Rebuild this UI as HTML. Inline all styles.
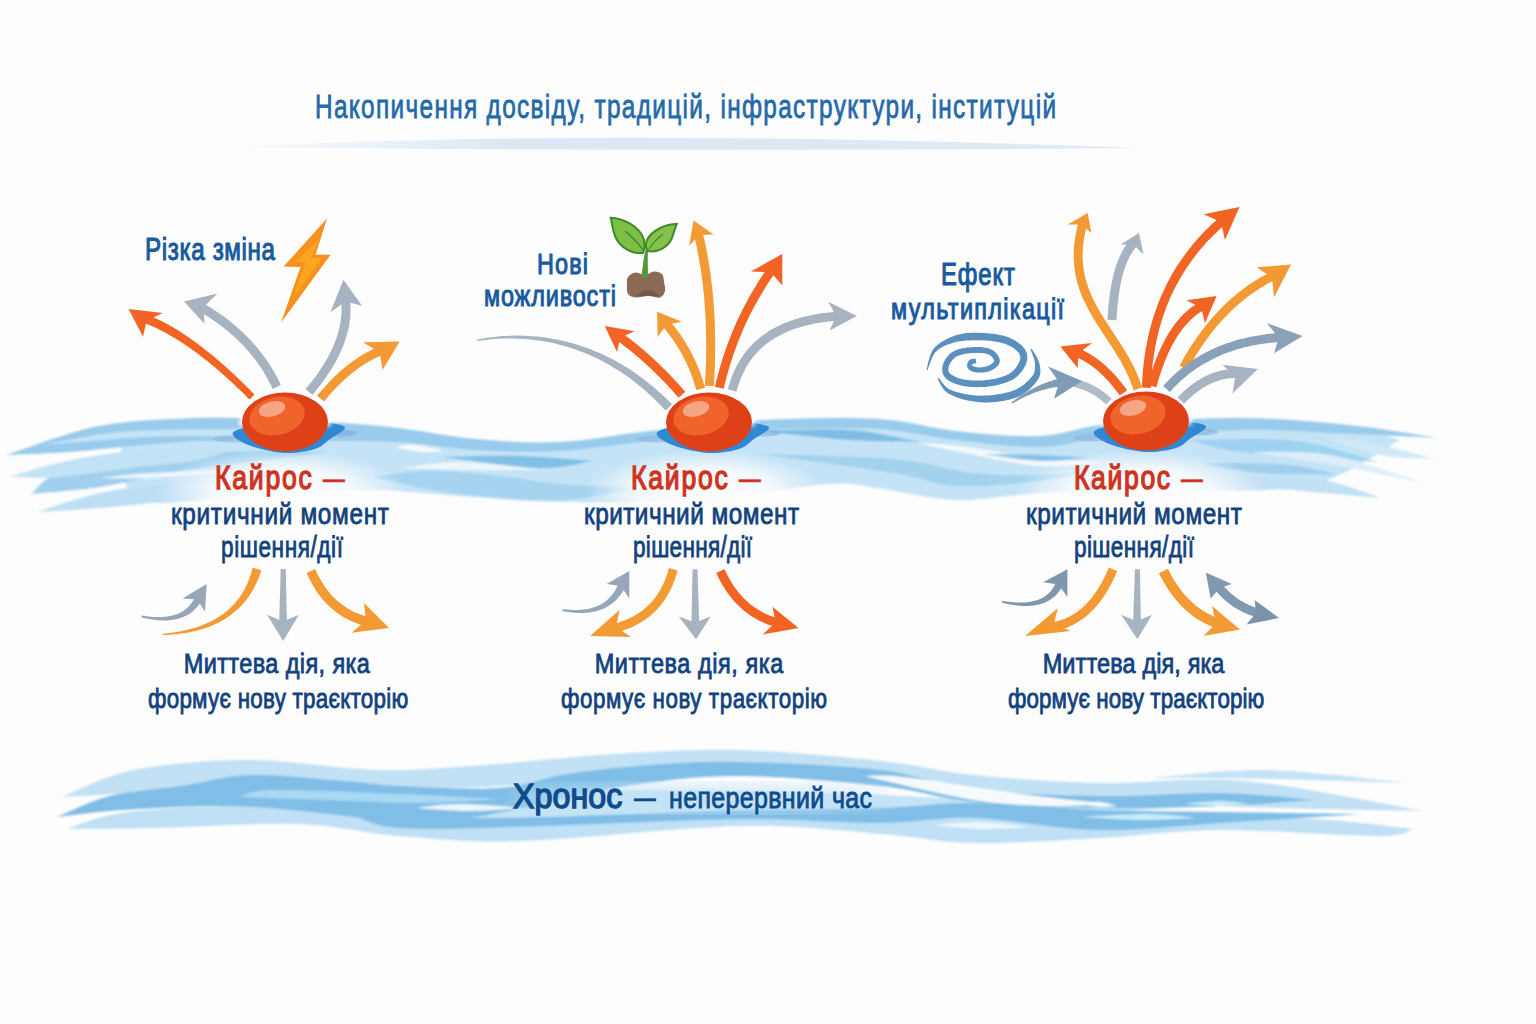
<!DOCTYPE html>
<html><head><meta charset="utf-8"><style>
html,body{margin:0;padding:0;background:#fdfdfd;width:1536px;height:1024px;overflow:hidden}
svg{display:block}
text{font-family:"Liberation Sans",sans-serif}
</style></head><body>
<svg width="1536" height="1024" viewBox="0 0 1536 1024">
<rect width="1536" height="1024" fill="#fdfdfd"/>
<defs>
<radialGradient id="orb" cx="0.42" cy="0.38" r="0.65">
 <stop offset="0" stop-color="#f46a2c"/><stop offset="0.6" stop-color="#ef5a22"/><stop offset="1" stop-color="#d63c12"/>
</radialGradient>
<radialGradient id="glow" cx="0.5" cy="0.5" r="0.5">
 <stop offset="0" stop-color="#fdfdfd" stop-opacity="1"/><stop offset="0.55" stop-color="#fdfdfd" stop-opacity="0.85"/><stop offset="1" stop-color="#fdfdfd" stop-opacity="0"/>
</radialGradient>
<linearGradient id="swoosh" x1="0" x2="1" y1="0" y2="0">
 <stop offset="0" stop-color="#e6eff8" stop-opacity="0.3"/><stop offset="0.3" stop-color="#dae8f5"/><stop offset="1" stop-color="#dfeaf6"/>
</linearGradient>
<filter id="blur1" x="-5%" y="-20%" width="110%" height="140%"><feGaussianBlur stdDeviation="0.9"/></filter>
<filter id="blur2"><feGaussianBlur stdDeviation="2"/></filter>
<filter id="blur4"><feGaussianBlur stdDeviation="4"/></filter>
<filter id="blur8"><feGaussianBlur stdDeviation="8"/></filter>
</defs>
<path d="M239,147 Q600,128 1139,148 Q700,152 239,147Z" fill="url(#swoosh)"/>
<g filter="url(#blur1)"><path d="M120.0,440.0 C128.7,437.5 152.0,428.3 172.0,425.0 C192.0,421.7 214.0,420.3 240.0,420.0 C266.0,419.7 301.7,421.3 328.0,423.0 C354.3,424.7 373.3,427.2 398.0,430.0 C422.7,432.8 449.0,437.7 476.0,440.0 C503.0,442.3 531.0,445.2 560.0,444.0 C589.0,442.8 616.2,436.7 650.0,433.0 C683.8,429.3 725.0,424.0 763.0,422.0 C801.0,420.0 845.8,419.2 878.0,421.0 C910.2,422.8 929.0,430.2 956.0,433.0 C983.0,435.8 1014.3,439.2 1040.0,438.0 C1065.7,436.8 1076.7,429.0 1110.0,426.0 C1143.3,423.0 1200.2,419.8 1240.0,420.0 C1279.8,420.2 1322.3,423.7 1349.0,427.0 C1375.7,430.3 1391.5,437.8 1400.0,440.0 C1384.3,447.7 1347.7,477.7 1306.0,486.0 C1264.3,494.3 1194.3,488.8 1150.0,490.0 C1105.7,491.2 1072.3,491.3 1040.0,493.0 C1007.7,494.7 983.0,500.8 956.0,500.0 C929.0,499.2 899.3,490.7 878.0,488.0 C856.7,485.3 857.7,482.0 828.0,484.0 C798.3,486.0 744.7,497.0 700.0,500.0 C655.3,503.0 600.0,502.7 560.0,502.0 C520.0,501.3 491.5,498.0 460.0,496.0 C428.5,494.0 404.3,490.3 371.0,490.0 C337.7,489.7 298.5,492.3 260.0,494.0 C221.5,495.7 163.3,509.0 140.0,500.0 C116.7,491.0 123.3,450.0 120.0,440.0Z" fill="#c4e3f6" opacity="1" /><path d="M6.0,455.0 C20.7,450.3 66.3,433.0 94.0,427.0 C121.7,421.0 147.7,420.5 172.0,419.0 C196.3,417.5 214.0,417.5 240.0,418.0 C266.0,418.5 301.7,420.3 328.0,422.0 C354.3,423.7 373.3,425.2 398.0,428.0 C422.7,430.8 449.0,436.7 476.0,439.0 C503.0,441.3 531.0,443.3 560.0,442.0 C589.0,440.7 616.2,434.7 650.0,431.0 C683.8,427.3 725.0,422.0 763.0,420.0 C801.0,418.0 845.8,417.2 878.0,419.0 C910.2,420.8 929.0,428.2 956.0,431.0 C983.0,433.8 1014.3,437.2 1040.0,436.0 C1065.7,434.8 1076.7,427.0 1110.0,424.0 C1143.3,421.0 1200.2,417.8 1240.0,418.0 C1279.8,418.2 1316.0,421.7 1349.0,425.0 C1382.0,428.3 1423.2,435.8 1438.0,438.0 C1420.7,437.2 1367.0,434.3 1334.0,433.0 C1301.0,431.7 1277.3,429.3 1240.0,430.0 C1202.7,430.7 1143.3,434.2 1110.0,437.0 C1076.7,439.8 1065.7,446.5 1040.0,447.0 C1014.3,447.5 983.0,443.0 956.0,440.0 C929.0,437.0 910.2,430.7 878.0,429.0 C845.8,427.3 801.0,428.0 763.0,430.0 C725.0,432.0 683.8,437.5 650.0,441.0 C616.2,444.5 589.0,449.5 560.0,451.0 C531.0,452.5 503.8,451.5 476.0,450.0 C448.2,448.5 429.0,443.7 393.0,442.0 C357.0,440.3 293.0,440.2 260.0,440.0 C227.0,439.8 216.2,440.0 195.0,441.0 C173.8,442.0 153.8,444.2 133.0,446.0 C112.2,447.8 91.2,450.5 70.0,452.0 C48.8,453.5 16.7,454.5 6.0,455.0Z" fill="#98cbec" opacity="1" /><path d="M40.0,445.0 C53.3,442.8 90.0,434.7 120.0,432.0 C150.0,429.3 190.0,429.3 220.0,429.0 C250.0,428.7 286.7,429.8 300.0,430.0 C290.0,431.0 265.0,434.8 240.0,436.0 C215.0,437.2 183.3,435.5 150.0,437.0 C116.7,438.5 58.3,443.7 40.0,445.0Z" fill="#c4e3f6" opacity="1" /><path d="M31.0,494.0 C35.8,490.3 43.5,477.8 60.0,472.0 C76.5,466.2 101.7,462.3 130.0,459.0 C158.3,455.7 196.7,453.2 230.0,452.0 C263.3,450.8 313.3,452.0 330.0,452.0 C318.3,453.5 285.0,457.8 260.0,461.0 C235.0,464.2 206.7,466.7 180.0,471.0 C153.3,475.3 124.8,483.2 100.0,487.0 C75.2,490.8 42.5,492.8 31.0,494.0Z" fill="#a1d0ef" opacity="1" /><path d="M9.0,477.0 C15.8,475.0 34.8,468.7 50.0,465.0 C65.2,461.3 81.7,457.7 100.0,455.0 C118.3,452.3 136.7,450.5 160.0,449.0 C183.3,447.5 226.7,446.5 240.0,446.0 C233.3,448.3 218.3,456.3 200.0,460.0 C181.7,463.7 153.3,465.2 130.0,468.0 C106.7,470.8 80.2,475.5 60.0,477.0 C39.8,478.5 17.5,477.0 9.0,477.0Z" fill="#c2e2f6" opacity="1" /><path d="M37.0,512.0 C47.5,508.8 77.8,497.8 100.0,493.0 C122.2,488.2 143.3,486.2 170.0,483.0 C196.7,479.8 233.3,475.8 260.0,474.0 C286.7,472.2 318.3,472.3 330.0,472.0 C320.0,475.0 295.0,485.3 270.0,490.0 C245.0,494.7 208.3,497.0 180.0,500.0 C151.7,503.0 123.8,506.0 100.0,508.0 C76.2,510.0 47.5,511.3 37.0,512.0Z" fill="#bddff5" opacity="1" /><path d="M100.0,478.0 C108.3,477.2 125.0,474.3 150.0,473.0 C175.0,471.7 233.3,470.5 250.0,470.0 C233.3,471.3 175.0,476.7 150.0,478.0 C125.0,479.3 108.3,478.0 100.0,478.0Z" fill="#fdfdfd" opacity="0.8" /><path d="M371.0,477.0 C380.8,476.0 408.5,471.2 430.0,471.0 C451.5,470.8 478.3,473.8 500.0,476.0 C521.7,478.2 536.7,482.0 560.0,484.0 C583.3,486.0 626.7,487.3 640.0,488.0 C626.7,490.0 590.0,499.0 560.0,500.0 C530.0,501.0 491.5,497.8 460.0,494.0 C428.5,490.2 385.8,479.8 371.0,477.0Z" fill="#a6d3f0" opacity="1" /><path d="M442.0,457.0 C455.0,456.8 495.0,455.3 520.0,456.0 C545.0,456.7 580.0,460.2 592.0,461.0 C583.3,462.2 565.0,468.7 540.0,468.0 C515.0,467.3 458.3,458.8 442.0,457.0Z" fill="#80bfe6" opacity="1" /><path d="M395.0,447.0 C398.3,446.7 406.7,444.3 415.0,445.0 C423.3,445.7 440.0,450.0 445.0,451.0 C440.8,451.2 428.3,452.7 420.0,452.0 C411.7,451.3 399.2,447.8 395.0,447.0Z" fill="#fdfdfd" opacity="0.9" /><path d="M400.0,468.0 C410.0,467.0 436.7,461.7 460.0,462.0 C483.3,462.3 526.7,468.7 540.0,470.0 C528.3,470.0 493.3,470.3 470.0,470.0 C446.7,469.7 411.7,468.3 400.0,468.0Z" fill="#fdfdfd" opacity="0.7" /><path d="M760.0,431.0 C775.0,430.8 823.3,428.2 850.0,430.0 C876.7,431.8 908.3,440.0 920.0,442.0 C908.3,441.7 876.7,441.8 850.0,440.0 C823.3,438.2 775.0,432.5 760.0,431.0Z" fill="#7fbde6" opacity="1" /><path d="M760.0,454.0 C782.3,454.8 858.7,455.8 894.0,459.0 C929.3,462.2 947.7,470.3 972.0,473.0 C996.3,475.7 1018.7,475.5 1040.0,475.0 C1061.3,474.5 1090.0,470.8 1100.0,470.0 C1090.0,471.8 1064.0,478.3 1040.0,481.0 C1016.0,483.7 980.3,487.3 956.0,486.0 C931.7,484.7 926.7,478.3 894.0,473.0 C861.3,467.7 782.3,457.2 760.0,454.0Z" fill="#a3d2ef" opacity="1" /><path d="M917.0,443.0 C924.2,443.5 939.5,443.5 960.0,446.0 C980.5,448.5 1015.0,455.3 1040.0,458.0 C1065.0,460.7 1098.3,461.3 1110.0,462.0 C1098.3,462.7 1065.0,467.7 1040.0,466.0 C1015.0,464.3 980.5,455.8 960.0,452.0 C939.5,448.2 924.2,444.5 917.0,443.0Z" fill="#fdfdfd" opacity="0.85" /><path d="M983.0,454.0 C992.5,454.2 1022.2,454.3 1040.0,455.0 C1057.8,455.7 1081.7,457.5 1090.0,458.0 C1081.7,458.5 1057.8,461.7 1040.0,461.0 C1022.2,460.3 992.5,455.2 983.0,454.0Z" fill="#86c2e8" opacity="1" /><path d="M1190.0,440.0 C1207.7,440.2 1264.7,437.3 1296.0,441.0 C1327.3,444.7 1364.3,458.5 1378.0,462.0 C1370.0,461.3 1353.0,459.7 1330.0,458.0 C1307.0,456.3 1263.3,455.0 1240.0,452.0 C1216.7,449.0 1198.3,442.0 1190.0,440.0Z" fill="#9dd3f0" opacity="1" /><path d="M1200.0,463.0 C1215.0,463.3 1267.0,463.0 1290.0,465.0 C1313.0,467.0 1330.0,473.3 1338.0,475.0 C1325.0,474.7 1283.0,475.0 1260.0,473.0 C1237.0,471.0 1210.0,464.7 1200.0,463.0Z" fill="#a0cfee" opacity="1" /><path d="M1180.0,478.0 C1201.0,477.8 1272.5,473.7 1306.0,477.0 C1339.5,480.3 1368.5,494.5 1381.0,498.0 C1359.2,496.0 1283.5,489.3 1250.0,486.0 C1216.5,482.7 1191.7,479.3 1180.0,478.0Z" fill="#c2e1f5" opacity="1" /><path d="M1320.0,436.0 C1330.0,437.5 1360.8,441.2 1380.0,445.0 C1399.2,448.8 1425.8,456.7 1435.0,459.0 C1425.8,458.3 1399.2,458.8 1380.0,455.0 C1360.8,451.2 1330.0,439.2 1320.0,436.0Z" fill="#d0e9f8" opacity="1" /><path d="M1250.0,452.0 C1263.3,452.5 1301.0,449.8 1330.0,455.0 C1359.0,460.2 1408.3,478.3 1424.0,483.0 C1410.0,480.2 1369.0,471.2 1340.0,466.0 C1311.0,460.8 1265.0,454.3 1250.0,452.0Z" fill="#dceefa" opacity="1" /></g>
<ellipse cx="282" cy="492" rx="125" ry="42" fill="url(#glow)"/>
<ellipse cx="705" cy="492" rx="120" ry="42" fill="url(#glow)"/>
<ellipse cx="1140" cy="492" rx="125" ry="42" fill="url(#glow)"/>
<g filter="url(#blur1)"><path d="M62.0,797.0 C74.0,792.5 102.5,776.2 134.0,770.0 C165.5,763.8 210.0,760.0 251.0,760.0 C292.0,760.0 339.0,769.3 380.0,770.0 C421.0,770.7 458.0,766.7 497.0,764.0 C536.0,761.3 573.5,756.3 614.0,754.0 C654.5,751.7 695.5,748.8 740.0,750.0 C784.5,751.2 842.0,756.8 881.0,761.0 C920.0,765.2 937.5,771.3 974.0,775.0 C1010.5,778.7 1055.0,782.0 1100.0,783.0 C1145.0,784.0 1190.2,776.3 1244.0,781.0 C1297.8,785.7 1393.2,806.0 1423.0,811.0 C1404.8,810.7 1347.7,809.8 1314.0,809.0 C1280.3,808.2 1256.7,807.2 1221.0,806.0 C1185.3,804.8 1141.2,803.8 1100.0,802.0 C1058.8,800.2 1010.5,798.7 974.0,795.0 C937.5,791.3 920.0,784.2 881.0,780.0 C842.0,775.8 792.3,769.7 740.0,770.0 C687.7,770.3 623.7,778.7 567.0,782.0 C510.3,785.3 464.5,788.3 400.0,790.0 C335.5,791.7 236.3,790.8 180.0,792.0 C123.7,793.2 81.7,796.2 62.0,797.0Z" fill="#c2e1f5" opacity="1" /><path d="M67.0,829.0 C76.2,826.3 95.2,816.8 122.0,813.0 C148.8,809.2 194.8,806.3 228.0,806.0 C261.2,805.7 292.3,809.3 321.0,811.0 C349.7,812.7 330.2,815.8 400.0,816.0 C469.8,816.2 623.3,812.7 740.0,812.0 C856.7,811.3 1006.7,811.0 1100.0,812.0 C1193.3,813.0 1247.8,815.2 1300.0,818.0 C1352.2,820.8 1394.2,827.2 1413.0,829.0 C1407.0,830.2 1409.0,835.8 1377.0,836.0 C1345.0,836.2 1267.2,829.7 1221.0,830.0 C1174.8,830.3 1141.2,835.8 1100.0,838.0 C1058.8,840.2 1010.5,843.7 974.0,843.0 C937.5,842.3 920.0,836.8 881.0,834.0 C842.0,831.2 800.0,824.8 740.0,826.0 C680.0,827.2 577.7,839.3 521.0,841.0 C464.3,842.7 437.2,838.8 400.0,836.0 C362.8,833.2 338.5,825.3 298.0,824.0 C257.5,822.7 195.5,827.2 157.0,828.0 C118.5,828.8 82.0,828.8 67.0,829.0Z" fill="#bfe0f5" opacity="1" /><path d="M240.0,800.0 C266.7,799.0 340.0,795.7 400.0,794.0 C460.0,792.3 533.3,790.3 600.0,790.0 C666.7,789.7 733.3,790.3 800.0,792.0 C866.7,793.7 933.3,797.7 1000.0,800.0 C1066.7,802.3 1166.7,805.0 1200.0,806.0 C1166.7,808.0 1066.7,816.0 1000.0,818.0 C933.3,820.0 866.7,818.0 800.0,818.0 C733.3,818.0 666.7,818.0 600.0,818.0 C533.3,818.0 460.0,821.0 400.0,818.0 C340.0,815.0 266.7,803.0 240.0,800.0Z" fill="#c4e3f6" opacity="1" /><path d="M57.0,817.0 C65.8,813.5 89.3,801.2 110.0,796.0 C130.7,790.8 157.5,789.5 181.0,786.0 C204.5,782.5 223.7,775.8 251.0,775.0 C278.3,774.2 320.2,779.2 345.0,781.0 C369.8,782.8 374.2,784.8 400.0,786.0 C425.8,787.2 472.2,790.0 500.0,788.0 C527.8,786.0 542.0,777.8 567.0,774.0 C592.0,770.2 621.2,767.0 650.0,765.0 C678.8,763.0 701.5,761.2 740.0,762.0 C778.5,762.8 842.0,765.3 881.0,770.0 C920.0,774.7 937.5,785.7 974.0,790.0 C1010.5,794.3 1058.8,795.5 1100.0,796.0 C1141.2,796.5 1185.3,792.3 1221.0,793.0 C1256.7,793.7 1298.5,798.8 1314.0,800.0 C1298.5,801.0 1256.7,804.7 1221.0,806.0 C1185.3,807.3 1141.2,808.7 1100.0,808.0 C1058.8,807.3 1010.5,805.7 974.0,802.0 C937.5,798.3 920.0,790.3 881.0,786.0 C842.0,781.7 780.2,776.3 740.0,776.0 C699.8,775.7 670.0,780.0 640.0,784.0 C610.0,788.0 588.3,794.3 560.0,800.0 C531.7,805.7 496.7,814.3 470.0,818.0 C443.3,821.7 424.8,822.8 400.0,822.0 C375.2,821.2 349.7,815.7 321.0,813.0 C292.3,810.3 261.2,806.5 228.0,806.0 C194.8,805.5 150.5,808.2 122.0,810.0 C93.5,811.8 67.8,815.8 57.0,817.0Z" fill="#80bee7" opacity="1" /><path d="M352.0,814.0 C360.0,814.7 368.0,817.5 400.0,818.0 C432.0,818.5 487.3,818.3 544.0,817.0 C600.7,815.7 683.8,811.5 740.0,810.0 C796.2,808.5 842.0,809.2 881.0,808.0 C920.0,806.8 937.5,802.7 974.0,803.0 C1010.5,803.3 1058.8,808.5 1100.0,810.0 C1141.2,811.5 1177.5,811.3 1221.0,812.0 C1264.5,812.7 1337.7,813.7 1361.0,814.0 C1337.7,815.5 1264.5,820.3 1221.0,823.0 C1177.5,825.7 1141.2,830.8 1100.0,830.0 C1058.8,829.2 1010.5,819.2 974.0,818.0 C937.5,816.8 920.0,822.8 881.0,823.0 C842.0,823.2 796.2,818.5 740.0,819.0 C683.8,819.5 600.7,824.5 544.0,826.0 C487.3,827.5 432.0,830.0 400.0,828.0 C368.0,826.0 360.0,816.3 352.0,814.0Z" fill="#80bee7" opacity="1" /><path d="M239.0,797.0 C244.8,795.8 247.2,790.5 274.0,790.0 C300.8,789.5 362.3,792.5 400.0,794.0 C437.7,795.5 483.3,798.2 500.0,799.0 C486.7,799.7 448.3,802.8 420.0,803.0 C391.7,803.2 360.2,801.0 330.0,800.0 C299.8,799.0 254.2,797.5 239.0,797.0Z" fill="#a9d9f3" opacity="1" /><path d="M415.0,808.0 C422.5,807.3 441.7,804.0 460.0,804.0 C478.3,804.0 514.2,807.3 525.0,808.0 C515.8,808.5 488.3,811.0 470.0,811.0 C451.7,811.0 424.2,808.5 415.0,808.0Z" fill="#f2f9fd" opacity="0.95" /><path d="M864.0,776.0 C870.7,776.2 877.8,774.0 904.0,777.0 C930.2,780.0 986.7,789.5 1021.0,794.0 C1055.3,798.5 1095.2,802.3 1110.0,804.0 C1100.0,804.3 1072.7,806.7 1050.0,806.0 C1027.3,805.3 1005.0,805.0 974.0,800.0 C943.0,795.0 882.3,780.0 864.0,776.0Z" fill="#fdfdfd" opacity="0.95" /><path d="M932.0,825.0 C940.0,824.5 963.2,821.7 980.0,822.0 C996.8,822.3 1024.2,826.2 1033.0,827.0 C1024.2,827.3 996.8,829.3 980.0,829.0 C963.2,828.7 940.0,825.7 932.0,825.0Z" fill="#eef7fd" opacity="0.95" /><path d="M1183.0,804.0 C1189.2,803.5 1209.0,801.0 1220.0,801.0 C1231.0,801.0 1244.2,803.5 1249.0,804.0 C1244.2,804.3 1231.0,806.0 1220.0,806.0 C1209.0,806.0 1189.2,804.3 1183.0,804.0Z" fill="#c8ecf9" opacity="1" /><path d="M1080.0,817.0 C1091.7,816.5 1130.5,813.8 1150.0,814.0 C1169.5,814.2 1189.2,817.3 1197.0,818.0 C1187.5,818.3 1159.5,820.2 1140.0,820.0 C1120.5,819.8 1090.0,817.5 1080.0,817.0Z" fill="#c8ecf9" opacity="1" /><path d="M1150.0,778.0 C1169.5,776.7 1224.0,769.2 1267.0,770.0 C1310.0,770.8 1384.5,780.8 1408.0,783.0 C1384.5,782.3 1310.0,779.8 1267.0,779.0 C1224.0,778.2 1169.5,778.2 1150.0,778.0Z" fill="#c5e3f6" opacity="1" /><path d="M1080.0,804.0 C1083.3,803.7 1093.8,801.7 1100.0,802.0 C1106.2,802.3 1114.2,805.3 1117.0,806.0 C1114.2,806.2 1106.2,807.3 1100.0,807.0 C1093.8,806.7 1083.3,804.5 1080.0,804.0Z" fill="#fdfdfd" opacity="0.9" /></g>
<ellipse cx="700" cy="798" rx="190" ry="14" fill="#c4e3f7" opacity="0.7" filter="url(#blur8)"/>
<path d="M254.5,394.5 L251.9,391.9 L249.4,389.3 L246.8,386.8 L244.3,384.2 L241.7,381.8 L239.2,379.3 L236.7,376.9 L234.2,374.6 L231.7,372.3 L229.2,370.0 L226.7,367.7 L224.3,365.5 L221.8,363.4 L219.4,361.3 L216.9,359.2 L214.5,357.1 L212.1,355.1 L209.7,353.2 L207.3,351.3 L204.9,349.4 L202.6,347.5 L200.2,345.7 L197.9,344.0 L195.5,342.2 L193.2,340.5 L190.9,338.9 L188.6,337.3 L186.3,335.7 L184.0,334.2 L181.7,332.7 L179.4,331.3 L177.2,329.8 L174.9,328.5 L172.7,327.1 L170.4,325.9 L168.2,324.6 L166.0,323.4 L163.8,322.2 L161.6,321.1 L159.4,320.0 L157.2,318.9 L155.1,317.9 L152.9,316.9 L150.7,316.0 L148.6,315.1 L146.5,314.3 L144.3,313.4 L142.3,312.7 L139.2,321.2 L141.3,321.9 L143.3,322.6 L145.3,323.4 L147.4,324.2 L149.4,325.0 L151.5,325.9 L153.5,326.8 L155.6,327.8 L157.7,328.8 L159.9,329.9 L162.0,330.9 L164.1,332.1 L166.3,333.2 L168.5,334.4 L170.6,335.7 L172.8,337.0 L175.0,338.3 L177.3,339.7 L179.5,341.1 L181.7,342.5 L184.0,344.0 L186.3,345.5 L188.6,347.1 L190.9,348.7 L193.2,350.4 L195.5,352.1 L197.8,353.8 L200.1,355.6 L202.5,357.4 L204.9,359.2 L207.3,361.1 L209.6,363.1 L212.0,365.0 L214.5,367.0 L216.9,369.1 L219.3,371.2 L221.8,373.3 L224.2,375.5 L226.7,377.7 L229.2,380.0 L231.7,382.3 L234.2,384.6 L236.7,387.0 L239.3,389.4 L241.8,391.8 L244.4,394.3 L246.9,396.9 L249.5,399.5Z" fill="#f26424" /><polygon points="128.6,309.0 162.8,313.0 146.6,320.7 143.0,336.7" fill="#f26424" />
<path d="M280.8,385.1 L279.8,383.0 L278.8,380.9 L277.7,378.8 L276.7,376.7 L275.6,374.6 L274.4,372.6 L273.2,370.5 L272.0,368.5 L270.8,366.5 L269.6,364.5 L268.3,362.5 L266.9,360.6 L265.6,358.6 L264.2,356.7 L262.8,354.8 L261.4,352.9 L259.9,351.0 L258.4,349.2 L256.9,347.3 L255.3,345.5 L253.7,343.7 L252.1,341.9 L250.5,340.1 L248.8,338.4 L247.1,336.6 L245.3,334.9 L243.6,333.2 L241.8,331.5 L239.9,329.8 L238.1,328.2 L236.2,326.5 L234.3,324.9 L232.3,323.3 L230.4,321.7 L228.4,320.1 L226.3,318.6 L224.3,317.0 L222.2,315.5 L220.1,314.0 L217.9,312.5 L215.7,311.0 L213.5,309.6 L211.3,308.1 L209.0,306.7 L206.7,305.3 L204.4,303.9 L202.0,302.5 L199.7,301.2 L195.2,309.0 L197.5,310.3 L199.8,311.6 L202.1,313.0 L204.3,314.3 L206.4,315.7 L208.6,317.1 L210.7,318.5 L212.8,319.9 L214.9,321.4 L216.9,322.8 L218.9,324.3 L220.9,325.8 L222.8,327.2 L224.8,328.8 L226.6,330.3 L228.5,331.8 L230.3,333.4 L232.1,334.9 L233.9,336.5 L235.6,338.1 L237.3,339.7 L239.0,341.4 L240.7,343.0 L242.3,344.6 L243.9,346.3 L245.5,348.0 L247.0,349.7 L248.5,351.4 L250.0,353.1 L251.4,354.9 L252.9,356.7 L254.2,358.4 L255.6,360.2 L256.9,362.0 L258.2,363.8 L259.5,365.7 L260.8,367.5 L262.0,369.4 L263.2,371.3 L264.3,373.2 L265.5,375.1 L266.6,377.0 L267.7,378.9 L268.7,380.9 L269.7,382.9 L270.7,384.8 L271.7,386.8 L272.6,388.9Z" fill="#a7b3c1" /><polygon points="184.0,301.6 217.4,293.4 203.9,306.7 204.4,323.7" fill="#a7b3c1" />
<path d="M312.5,394.9 L314.3,392.7 L316.1,390.5 L317.8,388.3 L319.5,386.1 L321.2,383.9 L322.8,381.8 L324.4,379.6 L325.9,377.4 L327.4,375.2 L328.8,373.1 L330.2,370.9 L331.6,368.8 L332.9,366.6 L334.1,364.5 L335.3,362.3 L336.5,360.2 L337.6,358.0 L338.7,355.9 L339.7,353.8 L340.7,351.6 L341.6,349.5 L342.5,347.4 L343.4,345.3 L344.2,343.2 L344.9,341.0 L345.6,338.9 L346.3,336.8 L346.9,334.7 L347.5,332.6 L348.0,330.5 L348.5,328.5 L348.9,326.4 L349.3,324.3 L349.6,322.2 L349.9,320.1 L350.1,318.1 L350.3,316.0 L350.4,313.9 L350.5,311.9 L350.6,309.8 L350.6,307.8 L350.5,305.8 L350.4,303.7 L350.3,301.7 L350.1,299.7 L349.9,297.6 L349.6,295.6 L349.2,293.7 L340.4,295.2 L340.7,297.0 L340.9,298.8 L341.1,300.6 L341.3,302.4 L341.4,304.3 L341.5,306.1 L341.6,307.9 L341.6,309.7 L341.5,311.6 L341.5,313.4 L341.3,315.3 L341.2,317.2 L340.9,319.0 L340.7,320.9 L340.4,322.8 L340.0,324.7 L339.7,326.6 L339.2,328.5 L338.8,330.4 L338.2,332.3 L337.7,334.2 L337.1,336.2 L336.4,338.1 L335.7,340.1 L335.0,342.0 L334.2,344.0 L333.4,346.0 L332.5,347.9 L331.6,349.9 L330.6,351.9 L329.6,353.9 L328.6,355.9 L327.5,357.9 L326.3,360.0 L325.1,362.0 L323.9,364.0 L322.6,366.1 L321.3,368.1 L319.9,370.2 L318.5,372.3 L317.1,374.4 L315.6,376.4 L314.0,378.5 L312.4,380.6 L310.8,382.7 L309.1,384.8 L307.3,387.0 L305.5,389.1Z" fill="#a7b3c1" /><polygon points="343.4,279.8 330.4,312.3 345.5,301.4 362.0,305.8" fill="#a7b3c1" />
<path d="M324.1,401.5 L325.4,399.9 L326.7,398.3 L328.0,396.8 L329.2,395.3 L330.5,393.8 L331.8,392.4 L333.1,391.0 L334.4,389.6 L335.7,388.2 L337.0,386.8 L338.3,385.5 L339.6,384.2 L340.9,382.9 L342.3,381.7 L343.6,380.5 L344.9,379.2 L346.2,378.1 L347.5,376.9 L348.8,375.8 L350.1,374.7 L351.5,373.6 L352.8,372.5 L354.1,371.5 L355.4,370.5 L356.7,369.5 L358.1,368.5 L359.4,367.6 L360.7,366.6 L362.1,365.7 L363.4,364.9 L364.7,364.0 L366.1,363.2 L367.4,362.4 L368.7,361.6 L370.1,360.9 L371.4,360.1 L372.8,359.4 L374.1,358.7 L375.4,358.1 L376.8,357.4 L378.1,356.8 L379.5,356.2 L380.8,355.7 L382.2,355.1 L383.5,354.6 L384.9,354.1 L386.3,353.6 L387.6,353.1 L384.8,344.6 L383.3,345.1 L381.9,345.6 L380.4,346.2 L378.9,346.7 L377.4,347.3 L375.9,348.0 L374.5,348.6 L373.0,349.3 L371.5,350.0 L370.1,350.7 L368.6,351.4 L367.2,352.2 L365.7,353.0 L364.3,353.8 L362.8,354.6 L361.4,355.5 L359.9,356.4 L358.5,357.3 L357.1,358.2 L355.7,359.2 L354.2,360.2 L352.8,361.2 L351.4,362.2 L350.0,363.3 L348.6,364.4 L347.2,365.5 L345.8,366.6 L344.4,367.7 L343.0,368.9 L341.6,370.1 L340.2,371.3 L338.8,372.6 L337.4,373.9 L336.1,375.2 L334.7,376.5 L333.3,377.8 L331.9,379.2 L330.6,380.6 L329.2,382.0 L327.9,383.4 L326.5,384.9 L325.2,386.4 L323.8,387.9 L322.5,389.4 L321.1,391.0 L319.8,392.5 L318.4,394.1 L317.1,395.7Z" fill="#f39a35" /><polygon points="399.7,341.6 363.0,342.3 379.8,352.4 382.5,370.0" fill="#f39a35" />
<polygon points="327,218.6 283.6,266.6 300.5,267 281.1,322.5 330.6,254.7 315.5,254.7" fill="#f7901e"/>
<polygon points="320,238 295,262 306,262 292,300 322,258 311,258" fill="#fba61c"/>
<path d="M477.1,341.1 L481.4,340.5 L485.6,339.9 L489.9,339.5 L494.1,339.1 L498.4,338.8 L502.6,338.6 L506.9,338.5 L511.1,338.4 L515.3,338.5 L519.6,338.7 L523.8,338.9 L528.0,339.3 L532.2,339.7 L536.4,340.2 L540.5,340.8 L544.7,341.5 L548.8,342.3 L553.0,343.1 L557.1,344.1 L561.2,345.2 L565.3,346.3 L569.3,347.5 L573.4,348.8 L577.4,350.2 L581.4,351.7 L585.4,353.3 L589.4,355.0 L593.3,356.8 L597.2,358.6 L601.1,360.6 L604.9,362.6 L608.8,364.7 L612.6,366.9 L616.4,369.2 L620.1,371.6 L623.8,374.1 L627.5,376.6 L631.2,379.3 L634.8,382.0 L638.4,384.9 L641.9,387.8 L645.4,390.8 L648.9,393.9 L652.3,397.1 L655.8,400.4 L659.1,403.8 L662.4,407.2 L665.7,410.8 L672.3,404.6 L668.8,401.1 L665.2,397.6 L661.6,394.2 L658.0,390.9 L654.3,387.7 L650.6,384.7 L646.9,381.7 L643.1,378.8 L639.3,376.0 L635.5,373.3 L631.6,370.6 L627.7,368.1 L623.8,365.7 L619.9,363.4 L615.9,361.1 L611.9,359.0 L607.9,357.0 L603.8,355.0 L599.7,353.1 L595.6,351.4 L591.5,349.7 L587.4,348.1 L583.3,346.7 L579.1,345.3 L574.9,344.0 L570.7,342.8 L566.5,341.7 L562.3,340.7 L558.1,339.7 L553.8,338.9 L549.6,338.2 L545.3,337.5 L541.0,337.0 L536.8,336.5 L532.5,336.2 L528.2,335.9 L523.9,335.7 L519.6,335.6 L515.4,335.6 L511.1,335.7 L506.8,335.9 L502.5,336.1 L498.2,336.5 L493.9,337.0 L489.7,337.5 L485.4,338.1 L481.1,338.9 L476.9,339.7Z" fill="#a7b3c1" />
<path d="M685.4,391.8 L684.0,390.3 L682.7,388.8 L681.3,387.3 L680.0,385.7 L678.6,384.2 L677.3,382.8 L675.9,381.3 L674.5,379.8 L673.2,378.4 L671.8,376.9 L670.4,375.5 L669.1,374.1 L667.7,372.6 L666.3,371.2 L664.9,369.8 L663.5,368.5 L662.1,367.1 L660.8,365.7 L659.4,364.4 L658.0,363.1 L656.6,361.7 L655.2,360.4 L653.8,359.1 L652.4,357.8 L651.0,356.5 L649.5,355.3 L648.1,354.0 L646.7,352.8 L645.3,351.5 L643.9,350.3 L642.5,349.1 L641.0,347.9 L639.6,346.7 L638.2,345.5 L636.7,344.3 L635.3,343.2 L633.9,342.0 L632.4,340.9 L631.0,339.7 L629.5,338.6 L628.1,337.5 L626.6,336.4 L625.2,335.3 L623.7,334.3 L622.3,333.2 L620.8,332.2 L619.3,331.1 L617.9,330.1 L612.7,337.5 L614.1,338.5 L615.6,339.5 L617.0,340.5 L618.4,341.5 L619.8,342.6 L621.2,343.6 L622.6,344.7 L624.0,345.8 L625.5,346.9 L626.9,348.0 L628.3,349.1 L629.7,350.2 L631.1,351.3 L632.5,352.5 L633.8,353.6 L635.2,354.8 L636.6,355.9 L638.0,357.1 L639.4,358.3 L640.8,359.5 L642.2,360.7 L643.5,362.0 L644.9,363.2 L646.3,364.5 L647.7,365.7 L649.0,367.0 L650.4,368.3 L651.8,369.6 L653.1,370.9 L654.5,372.2 L655.8,373.5 L657.2,374.9 L658.6,376.2 L659.9,377.6 L661.3,378.9 L662.6,380.3 L663.9,381.7 L665.3,383.1 L666.6,384.5 L668.0,386.0 L669.3,387.4 L670.6,388.8 L672.0,390.3 L673.3,391.8 L674.6,393.2 L676.0,394.7 L677.3,396.2 L678.6,397.8Z" fill="#f26424" /><polygon points="604.7,326.0 634.8,331.2 620.4,337.5 617.0,351.9" fill="#f26424" />
<path d="M705.0,387.8 L704.6,386.1 L704.1,384.5 L703.6,382.9 L703.1,381.2 L702.6,379.6 L702.0,378.0 L701.5,376.4 L700.9,374.8 L700.4,373.2 L699.8,371.6 L699.2,370.0 L698.5,368.4 L697.9,366.9 L697.3,365.3 L696.6,363.8 L695.9,362.2 L695.2,360.7 L694.5,359.2 L693.8,357.7 L693.1,356.2 L692.3,354.7 L691.6,353.2 L690.8,351.7 L690.0,350.2 L689.2,348.8 L688.4,347.3 L687.5,345.9 L686.7,344.4 L685.8,343.0 L684.9,341.6 L684.1,340.2 L683.1,338.8 L682.2,337.4 L681.3,336.0 L680.4,334.6 L679.4,333.3 L678.4,331.9 L677.4,330.6 L676.4,329.2 L675.4,327.9 L674.4,326.6 L673.3,325.2 L672.3,323.9 L671.2,322.6 L670.1,321.4 L669.0,320.1 L667.9,318.8 L666.8,317.6 L660.1,323.5 L661.2,324.8 L662.2,326.0 L663.3,327.2 L664.3,328.4 L665.3,329.6 L666.3,330.9 L667.3,332.1 L668.3,333.4 L669.2,334.6 L670.2,335.9 L671.1,337.2 L672.1,338.5 L673.0,339.8 L673.9,341.1 L674.7,342.4 L675.6,343.7 L676.5,345.0 L677.3,346.4 L678.1,347.7 L679.0,349.1 L679.8,350.4 L680.5,351.8 L681.3,353.2 L682.1,354.5 L682.8,355.9 L683.6,357.3 L684.3,358.7 L685.0,360.2 L685.7,361.6 L686.4,363.0 L687.0,364.4 L687.7,365.9 L688.3,367.4 L689.0,368.8 L689.6,370.3 L690.2,371.8 L690.8,373.3 L691.3,374.8 L691.9,376.3 L692.5,377.8 L693.0,379.3 L693.5,380.8 L694.0,382.4 L694.5,383.9 L695.0,385.5 L695.5,387.0 L695.9,388.6 L696.4,390.2Z" fill="#f39a35" /><polygon points="657.0,311.7 682.0,321.8 666.5,324.8 657.7,337.0" fill="#f39a35" />
<path d="M713.8,386.3 L714.0,382.7 L714.2,379.1 L714.4,375.5 L714.6,372.0 L714.7,368.4 L714.9,364.9 L715.0,361.4 L715.1,357.9 L715.1,354.4 L715.2,350.9 L715.2,347.5 L715.2,344.0 L715.2,340.6 L715.1,337.2 L715.1,333.8 L715.0,330.4 L714.9,327.0 L714.8,323.6 L714.7,320.3 L714.5,316.9 L714.3,313.6 L714.1,310.3 L713.9,307.0 L713.7,303.7 L713.4,300.5 L713.1,297.2 L712.8,294.0 L712.5,290.8 L712.2,287.6 L711.8,284.4 L711.4,281.2 L711.0,278.0 L710.6,274.9 L710.2,271.7 L709.7,268.6 L709.2,265.5 L708.7,262.4 L708.2,259.3 L707.6,256.2 L707.1,253.2 L706.5,250.1 L705.9,247.1 L705.3,244.1 L704.6,241.1 L703.9,238.1 L703.3,235.1 L702.5,232.2 L701.8,229.3 L693.1,231.4 L693.8,234.3 L694.5,237.2 L695.2,240.1 L695.8,243.0 L696.5,246.0 L697.1,248.9 L697.7,251.9 L698.2,254.9 L698.8,257.8 L699.3,260.9 L699.8,263.9 L700.3,266.9 L700.8,270.0 L701.3,273.0 L701.7,276.1 L702.1,279.2 L702.5,282.3 L702.9,285.4 L703.2,288.5 L703.6,291.7 L703.9,294.9 L704.2,298.0 L704.4,301.2 L704.7,304.4 L704.9,307.6 L705.1,310.9 L705.3,314.1 L705.5,317.4 L705.7,320.7 L705.8,324.0 L705.9,327.3 L706.0,330.6 L706.1,333.9 L706.1,337.3 L706.2,340.6 L706.2,344.0 L706.2,347.4 L706.2,350.8 L706.1,354.3 L706.1,357.7 L706.0,361.1 L705.9,364.6 L705.7,368.1 L705.6,371.6 L705.4,375.1 L705.2,378.6 L705.0,382.2 L704.8,385.7Z" fill="#f39a35" /><polygon points="693.5,220.6 713.6,234.4 699.3,235.0 689.2,245.8" fill="#f39a35" />
<path d="M723.7,388.7 L724.3,385.9 L725.0,383.2 L725.7,380.4 L726.4,377.7 L727.2,374.9 L727.9,372.2 L728.7,369.5 L729.5,366.8 L730.3,364.1 L731.2,361.5 L732.0,358.8 L732.9,356.2 L733.8,353.5 L734.7,350.9 L735.7,348.3 L736.6,345.7 L737.6,343.1 L738.6,340.5 L739.6,338.0 L740.7,335.4 L741.7,332.9 L742.8,330.4 L743.9,327.8 L745.0,325.3 L746.2,322.8 L747.3,320.4 L748.5,317.9 L749.7,315.4 L750.9,313.0 L752.2,310.6 L753.5,308.2 L754.7,305.7 L756.0,303.4 L757.4,301.0 L758.7,298.6 L760.1,296.2 L761.5,293.9 L762.9,291.6 L764.3,289.2 L765.7,286.9 L767.2,284.6 L768.7,282.3 L770.2,280.1 L771.7,277.8 L773.3,275.5 L774.9,273.3 L776.4,271.1 L778.1,268.8 L770.8,263.6 L769.1,265.8 L767.5,268.1 L765.9,270.4 L764.3,272.7 L762.7,275.1 L761.2,277.4 L759.6,279.8 L758.1,282.1 L756.7,284.5 L755.2,286.9 L753.7,289.3 L752.3,291.7 L750.9,294.1 L749.5,296.6 L748.2,299.0 L746.8,301.5 L745.5,303.9 L744.2,306.4 L742.9,308.9 L741.7,311.4 L740.4,314.0 L739.2,316.5 L738.0,319.1 L736.8,321.6 L735.7,324.2 L734.5,326.8 L733.4,329.4 L732.3,332.0 L731.3,334.6 L730.2,337.2 L729.2,339.9 L728.2,342.5 L727.2,345.2 L726.2,347.9 L725.3,350.6 L724.4,353.3 L723.5,356.0 L722.6,358.7 L721.7,361.5 L720.9,364.2 L720.1,367.0 L719.3,369.8 L718.5,372.6 L717.7,375.4 L717.0,378.2 L716.3,381.0 L715.6,383.8 L714.9,386.7Z" fill="#f26424" /><polygon points="782.3,253.9 750.8,271.6 770.6,272.1 782.3,285.4" fill="#f26424" />
<path d="M736.5,391.7 L737.3,388.8 L738.1,386.1 L739.0,383.4 L739.9,380.8 L740.9,378.2 L741.9,375.7 L743.1,373.3 L744.2,370.9 L745.5,368.6 L746.7,366.3 L748.1,364.1 L749.5,361.9 L751.0,359.8 L752.5,357.8 L754.1,355.8 L755.8,353.9 L757.5,352.0 L759.3,350.2 L761.1,348.4 L763.0,346.7 L765.0,345.0 L767.0,343.4 L769.1,341.9 L771.3,340.4 L773.5,338.9 L775.8,337.5 L778.1,336.2 L780.6,334.9 L783.1,333.7 L785.6,332.5 L788.2,331.3 L790.9,330.3 L793.7,329.2 L796.5,328.3 L799.4,327.4 L802.3,326.5 L805.3,325.7 L808.4,325.0 L811.6,324.3 L814.8,323.6 L818.1,323.0 L821.5,322.5 L824.9,322.0 L828.4,321.6 L832.0,321.3 L835.6,321.0 L839.3,320.7 L843.1,320.5 L842.6,311.5 L838.8,311.7 L834.9,312.0 L831.1,312.3 L827.4,312.7 L823.7,313.1 L820.2,313.6 L816.6,314.2 L813.2,314.8 L809.7,315.4 L806.4,316.2 L803.1,317.0 L799.9,317.8 L796.8,318.8 L793.7,319.7 L790.6,320.8 L787.7,321.9 L784.8,323.0 L781.9,324.3 L779.2,325.5 L776.4,326.9 L773.8,328.3 L771.2,329.8 L768.7,331.3 L766.2,332.9 L763.9,334.6 L761.5,336.3 L759.3,338.1 L757.1,339.9 L755.0,341.8 L752.9,343.8 L751.0,345.8 L749.0,347.9 L747.2,350.1 L745.4,352.3 L743.7,354.5 L742.1,356.9 L740.5,359.3 L739.0,361.7 L737.6,364.2 L736.2,366.8 L734.9,369.4 L733.7,372.1 L732.5,374.9 L731.5,377.6 L730.5,380.5 L729.5,383.4 L728.6,386.4 L727.9,389.3Z" fill="#a7b3c1" /><polygon points="856.8,316.0 828.2,301.7 836.2,316.0 829.6,330.4" fill="#a7b3c1" />
<path d="M628.0,277.0 C629.5,274.9 633.2,272.8 636.0,272.5 C638.8,272.2 642.0,275.2 645.0,275.0 C648.0,274.8 651.2,271.7 654.0,271.5 C656.8,271.3 660.3,272.2 662.0,274.0 C663.7,275.8 663.5,279.2 664.0,282.0 C664.5,284.8 665.7,288.4 665.0,291.0 C664.3,293.6 662.8,296.7 660.0,297.5 C657.2,298.3 652.0,296.0 648.0,296.0 C644.0,296.0 639.3,297.8 636.0,297.5 C632.7,297.2 629.5,296.1 628.0,294.0 C626.5,291.9 627.0,287.8 627.0,285.0 C627.0,282.2 626.5,279.1 628.0,277.0Z" fill="#8b6a55"/>
<path d="M636,296 Q648,284 660,296 Z" fill="#77594a"/>
<path d="M641.5,278 C642.5,268 643.5,258 645.5,250 L648,250 C647.5,258 648,268 648,278 Z" fill="#4f9a34"/>
<path d="M610.7,217.7 C622,218 640,226 644,240 C645,246 644,251 643,253 C632,254 620,248 615,236 C612,228 612,222 610.7,217.7Z" fill="#7dbf45" stroke="#3f8a2b" stroke-width="2"/>
<path d="M676.7,224 C666,224 652,230 647,240 C645,245 646,249 647.9,251 C658,253 668,247 672,238 C674,232 675,228 676.7,224Z" fill="#84c24a" stroke="#3f8a2b" stroke-width="2"/>
<path d="M625,231 Q636,240 643,250" stroke="#3f8a2b" stroke-width="1.3" fill="none"/>
<path d="M663,234 Q655,240 649,249" stroke="#3f8a2b" stroke-width="1.3" fill="none"/>
<path d="M927.4,370.1 L927.9,368.9 L928.5,367.3 L929.2,365.4 L930.0,363.3 L930.8,361.0 L931.7,358.7 L932.7,356.5 L933.8,354.4 L935.1,352.6 L936.4,351.2 L937.8,349.9 L939.4,348.7 L941.2,347.6 L943.1,346.6 L945.2,345.6 L947.2,344.7 L949.4,344.0 L951.6,343.2 L953.8,342.6 L955.9,342.1 L958.0,341.6 L960.2,341.3 L962.4,341.0 L964.7,340.8 L967.0,340.6 L969.3,340.4 L971.7,340.3 L974.1,340.2 L976.5,340.2 L978.9,340.2 L981.4,340.3 L984.0,340.4 L986.7,340.6 L989.4,340.8 L992.0,341.1 L994.7,341.5 L997.2,341.9 L999.6,342.3 L1001.9,342.9 L1003.9,343.5 L1005.8,344.1 L1007.6,344.9 L1009.4,345.7 L1011.0,346.6 L1012.6,347.5 L1014.0,348.5 L1015.3,349.4 L1016.5,350.4 L1017.4,351.4 L1018.3,352.2 L1018.9,353.1 L1019.4,353.9 L1019.8,354.7 L1020.0,355.5 L1020.2,356.3 L1020.3,357.1 L1020.3,358.0 L1020.2,358.9 L1020.0,359.8 L1019.7,360.9 L1019.3,362.0 L1018.7,363.2 L1018.0,364.5 L1017.2,365.9 L1016.2,367.3 L1015.2,368.6 L1014.1,369.9 L1012.8,371.1 L1011.5,372.2 L1010.2,373.1 L1008.7,374.0 L1006.9,374.9 L1005.1,375.7 L1003.0,376.5 L1000.9,377.2 L998.7,377.8 L996.4,378.4 L994.1,378.9 L991.8,379.3 L989.5,379.7 L987.2,380.0 L984.8,380.3 L982.3,380.4 L979.7,380.6 L977.2,380.6 L974.7,380.6 L972.2,380.5 L969.8,380.3 L967.6,380.1 L965.5,379.8 L963.6,379.4 L961.7,379.0 L959.8,378.5 L958.0,377.9 L956.3,377.2 L954.7,376.5 L953.3,375.8 L952.0,375.1 L951.0,374.4 L950.2,373.7 L949.6,373.1 L949.2,372.5 L948.9,371.8 L948.6,371.1 L948.5,370.3 L948.4,369.5 L948.4,368.7 L948.5,367.8 L948.7,366.8 L948.9,366.0 L949.3,365.0 L949.7,364.1 L950.3,363.0 L950.9,362.0 L951.7,360.9 L952.5,359.9 L953.4,359.0 L954.4,358.1 L955.4,357.3 L956.5,356.6 L957.7,356.0 L959.1,355.5 L960.6,355.0 L962.3,354.5 L964.1,354.1 L965.9,353.8 L967.8,353.5 L969.6,353.2 L971.4,353.1 L973.2,352.9 L974.9,352.9 L976.6,352.8 L978.4,352.9 L980.2,352.9 L981.9,353.1 L983.5,353.3 L985.1,353.5 L986.5,353.8 L987.8,354.2 L988.8,354.6 L989.7,355.1 L990.5,355.6 L991.3,356.3 L992.1,357.1 L992.7,357.9 L993.3,358.7 L993.7,359.4 L994.0,360.1 L994.2,360.7 L994.2,361.0 L994.2,361.1 L994.1,361.4 L993.8,361.8 L993.4,362.3 L992.8,362.9 L992.1,363.5 L991.4,364.1 L990.5,364.6 L989.7,365.1 L988.9,365.5 L988.0,365.9 L987.1,366.2 L986.0,366.5 L984.9,366.8 L983.7,367.0 L982.4,367.2 L981.3,367.3 L980.1,367.4 L979.1,367.4 L978.1,367.4 L977.3,367.3 L976.5,367.2 L975.7,367.0 L974.9,366.8 L974.1,366.5 L973.5,366.2 L972.9,366.0 L972.4,365.7 L972.1,365.4 L972.0,365.4 L972.0,365.5 L972.1,365.6 L972.0,365.5 L972.1,365.3 L972.1,365.1 L972.2,364.7 L972.4,364.4 L972.5,364.1 L972.7,363.9 L972.7,363.8 L972.6,363.9 L972.7,363.8 L972.9,363.8 L973.3,363.7 L973.8,363.6 L974.3,363.6 L974.9,363.5 L975.4,363.5 L975.9,363.4 L976.3,363.4 L975.7,358.6 L975.5,358.6 L975.1,358.7 L974.6,358.7 L974.0,358.7 L973.3,358.8 L972.6,358.8 L971.8,359.0 L971.0,359.2 L970.1,359.6 L969.3,360.2 L968.7,360.8 L968.3,361.5 L967.9,362.1 L967.5,362.9 L967.3,363.7 L967.1,364.6 L967.0,365.5 L967.1,366.6 L967.4,367.6 L968.0,368.6 L968.8,369.4 L969.5,369.9 L970.4,370.5 L971.3,370.9 L972.2,371.4 L973.3,371.7 L974.4,372.1 L975.5,372.3 L976.7,372.5 L977.9,372.6 L979.1,372.7 L980.3,372.6 L981.7,372.6 L983.1,372.4 L984.5,372.3 L985.9,372.0 L987.3,371.7 L988.6,371.4 L989.9,371.0 L991.1,370.5 L992.3,369.9 L993.4,369.3 L994.5,368.6 L995.5,367.8 L996.5,367.0 L997.5,366.0 L998.3,365.0 L999.1,363.8 L999.6,362.5 L999.8,361.0 L999.7,359.6 L999.3,358.3 L998.8,357.0 L998.1,355.7 L997.3,354.5 L996.3,353.3 L995.2,352.2 L994.0,351.1 L992.7,350.2 L991.2,349.4 L989.6,348.8 L988.0,348.3 L986.2,347.9 L984.4,347.5 L982.5,347.3 L980.5,347.1 L978.6,347.0 L976.6,347.0 L974.7,347.0 L972.8,347.1 L971.0,347.2 L969.0,347.4 L967.0,347.6 L965.0,347.9 L962.9,348.3 L960.9,348.7 L958.9,349.2 L957.0,349.8 L955.2,350.5 L953.5,351.4 L952.0,352.3 L950.5,353.4 L949.2,354.6 L948.0,355.9 L946.8,357.2 L945.8,358.5 L945.0,359.9 L944.2,361.3 L943.6,362.7 L943.1,364.0 L942.7,365.4 L942.4,366.8 L942.2,368.2 L942.2,369.7 L942.3,371.2 L942.6,372.7 L943.0,374.2 L943.7,375.6 L944.7,377.0 L945.8,378.3 L947.1,379.4 L948.6,380.4 L950.2,381.4 L952.0,382.3 L953.8,383.2 L955.8,383.9 L957.9,384.6 L960.0,385.2 L962.2,385.8 L964.5,386.2 L966.8,386.5 L969.3,386.8 L971.8,387.0 L974.5,387.1 L977.2,387.2 L979.9,387.1 L982.6,387.0 L985.3,386.9 L988.0,386.6 L990.5,386.3 L992.9,385.9 L995.4,385.4 L997.9,384.9 L1000.4,384.3 L1002.9,383.6 L1005.2,382.8 L1007.6,382.0 L1009.8,381.0 L1011.9,380.0 L1013.8,378.9 L1015.7,377.6 L1017.4,376.2 L1019.0,374.6 L1020.4,373.0 L1021.8,371.4 L1022.9,369.7 L1024.0,368.0 L1024.9,366.3 L1025.7,364.7 L1026.3,363.1 L1026.8,361.6 L1027.1,360.0 L1027.3,358.4 L1027.3,356.8 L1027.2,355.2 L1026.8,353.6 L1026.3,352.1 L1025.6,350.6 L1024.8,349.1 L1023.7,347.8 L1022.6,346.4 L1021.3,345.1 L1019.8,343.9 L1018.2,342.6 L1016.4,341.4 L1014.6,340.3 L1012.6,339.2 L1010.5,338.2 L1008.4,337.3 L1006.1,336.5 L1003.7,335.8 L1001.2,335.2 L998.5,334.7 L995.8,334.2 L993.0,333.8 L990.1,333.5 L987.3,333.2 L984.5,333.0 L981.7,332.9 L979.1,332.8 L976.5,332.8 L974.0,332.8 L971.4,332.8 L968.8,332.9 L966.3,333.1 L963.8,333.4 L961.3,333.9 L958.8,334.5 L956.4,335.1 L954.1,335.9 L951.8,336.8 L949.5,337.8 L947.3,338.8 L945.0,340.0 L942.8,341.2 L940.7,342.5 L938.8,343.9 L936.9,345.5 L935.2,347.1 L933.6,348.8 L932.3,350.8 L931.2,353.0 L930.2,355.4 L929.4,357.9 L928.7,360.4 L928.1,362.7 L927.6,365.0 L927.2,367.0 L926.9,368.6 L926.6,369.9Z" fill="#5b8fbe"/>
<path d="M937.6,378.3 L938.1,379.2 L938.6,380.4 L939.2,381.9 L940.0,383.5 L941.0,385.3 L942.1,387.2 L943.4,389.0 L945.0,390.8 L946.9,392.5 L949.0,393.9 L951.4,395.1 L954.1,396.3 L957.1,397.4 L960.2,398.5 L963.5,399.4 L966.9,400.3 L970.4,401.0 L973.9,401.6 L977.4,402.0 L980.9,402.3 L984.4,402.4 L988.0,402.4 L991.7,402.3 L995.4,402.0 L999.2,401.5 L1002.9,401.0 L1006.5,400.3 L1010.0,399.5 L1013.3,398.6 L1016.4,397.5 L1019.3,396.2 L1022.1,394.7 L1024.7,393.1 L1027.1,391.3 L1029.4,389.4 L1031.4,387.5 L1033.3,385.5 L1035.0,383.6 L1036.5,381.7 L1037.7,379.9 L1038.8,378.0 L1039.6,376.1 L1040.1,374.2 L1040.4,372.3 L1040.4,370.5 L1040.3,368.8 L1040.1,367.2 L1039.8,365.6 L1039.5,364.1 L1039.1,362.6 L1038.6,361.0 L1037.9,359.3 L1037.1,357.7 L1036.3,356.0 L1035.3,354.5 L1034.4,353.0 L1033.5,351.7 L1032.7,350.5 L1032.0,349.5 L1031.5,348.8 L1030.5,349.2 L1030.8,350.1 L1031.2,351.3 L1031.7,352.6 L1032.3,354.1 L1032.9,355.7 L1033.5,357.3 L1034.1,358.9 L1034.5,360.5 L1034.8,362.0 L1034.9,363.4 L1035.0,364.8 L1035.0,366.2 L1035.0,367.6 L1035.0,368.9 L1034.8,370.2 L1034.6,371.5 L1034.2,372.6 L1033.8,373.8 L1033.1,374.9 L1032.3,376.1 L1031.1,377.5 L1029.8,379.0 L1028.2,380.6 L1026.5,382.2 L1024.6,383.9 L1022.6,385.4 L1020.5,386.9 L1018.3,388.3 L1016.0,389.5 L1013.6,390.5 L1011.0,391.4 L1008.1,392.3 L1004.9,393.1 L1001.6,393.7 L998.2,394.3 L994.7,394.8 L991.2,395.2 L987.7,395.5 L984.3,395.6 L981.1,395.7 L977.9,395.6 L974.7,395.4 L971.4,395.0 L968.0,394.5 L964.8,394.0 L961.6,393.3 L958.6,392.6 L955.7,391.8 L953.2,390.9 L951.0,390.1 L949.1,389.2 L947.4,388.1 L945.9,386.7 L944.4,385.3 L943.2,383.8 L942.0,382.3 L941.0,380.9 L940.1,379.6 L939.2,378.5 L938.4,377.7Z" fill="#5b8fbe"/>
<path d="M1073.8,386.9 L1074.6,387.1 L1075.4,387.3 L1076.2,387.5 L1077.0,387.7 L1077.8,388.0 L1078.6,388.2 L1079.3,388.4 L1080.1,388.7 L1080.8,389.0 L1081.6,389.2 L1082.3,389.5 L1083.1,389.8 L1083.8,390.1 L1084.5,390.4 L1085.3,390.7 L1086.0,391.0 L1086.7,391.3 L1087.4,391.6 L1088.1,391.9 L1088.8,392.3 L1089.5,392.6 L1090.2,393.0 L1090.9,393.3 L1091.5,393.7 L1092.2,394.1 L1092.9,394.4 L1093.5,394.8 L1094.2,395.2 L1094.8,395.6 L1095.5,396.0 L1096.1,396.4 L1096.7,396.9 L1097.4,397.3 L1098.0,397.7 L1098.6,398.2 L1099.2,398.6 L1099.8,399.1 L1100.4,399.5 L1101.0,400.0 L1101.6,400.5 L1102.2,401.0 L1102.8,401.5 L1103.4,402.0 L1104.0,402.5 L1104.5,403.0 L1105.1,403.5 L1105.6,404.0 L1106.2,404.6 L1111.8,398.8 L1111.2,398.2 L1110.6,397.7 L1109.9,397.1 L1109.3,396.5 L1108.6,395.9 L1108.0,395.4 L1107.3,394.8 L1106.7,394.3 L1106.0,393.7 L1105.4,393.2 L1104.7,392.7 L1104.0,392.2 L1103.3,391.7 L1102.6,391.2 L1101.9,390.7 L1101.2,390.2 L1100.5,389.7 L1099.8,389.3 L1099.1,388.8 L1098.3,388.4 L1097.6,387.9 L1096.9,387.5 L1096.1,387.1 L1095.4,386.7 L1094.6,386.3 L1093.9,385.9 L1093.1,385.5 L1092.3,385.1 L1091.5,384.7 L1090.8,384.3 L1090.0,384.0 L1089.2,383.6 L1088.4,383.3 L1087.6,383.0 L1086.8,382.6 L1085.9,382.3 L1085.1,382.0 L1084.3,381.7 L1083.5,381.4 L1082.6,381.1 L1081.8,380.8 L1080.9,380.6 L1080.1,380.3 L1079.2,380.1 L1078.4,379.8 L1077.5,379.6 L1076.6,379.3 L1075.8,379.1Z" fill="#aebbc8" />
<path d="M1012.1,403.6 L1013.3,402.9 L1014.5,402.2 L1015.8,401.5 L1017.0,400.9 L1018.2,400.2 L1019.4,399.6 L1020.6,398.9 L1021.8,398.3 L1023.0,397.7 L1024.2,397.2 L1025.3,396.6 L1026.5,396.0 L1027.7,395.5 L1028.9,395.0 L1030.1,394.5 L1031.2,394.0 L1032.4,393.5 L1033.6,393.1 L1034.7,392.6 L1035.9,392.2 L1037.0,391.8 L1038.2,391.4 L1039.3,391.0 L1040.5,390.7 L1041.6,390.3 L1042.8,390.0 L1043.9,389.7 L1045.0,389.4 L1046.2,389.1 L1047.3,388.8 L1048.4,388.5 L1049.5,388.3 L1050.6,388.0 L1051.8,387.8 L1052.9,387.6 L1054.0,387.4 L1055.1,387.3 L1056.1,387.1 L1057.2,387.0 L1058.3,386.8 L1059.4,386.7 L1060.5,386.6 L1061.6,386.5 L1062.6,386.5 L1063.7,386.4 L1064.8,386.4 L1065.8,386.3 L1066.9,386.3 L1066.1,377.4 L1065.0,377.5 L1063.8,377.7 L1062.7,377.9 L1061.5,378.2 L1060.4,378.4 L1059.2,378.7 L1058.1,378.9 L1056.9,379.2 L1055.8,379.5 L1054.6,379.8 L1053.5,380.2 L1052.3,380.5 L1051.2,380.9 L1050.0,381.2 L1048.9,381.6 L1047.7,382.0 L1046.6,382.4 L1045.5,382.9 L1044.3,383.3 L1043.2,383.8 L1042.0,384.3 L1040.9,384.7 L1039.7,385.2 L1038.6,385.8 L1037.5,386.3 L1036.3,386.8 L1035.2,387.4 L1034.0,388.0 L1032.9,388.6 L1031.8,389.2 L1030.6,389.8 L1029.5,390.4 L1028.4,391.0 L1027.2,391.7 L1026.1,392.4 L1024.9,393.1 L1023.8,393.8 L1022.7,394.5 L1021.5,395.2 L1020.4,395.9 L1019.3,396.7 L1018.1,397.5 L1017.0,398.3 L1015.8,399.0 L1014.7,399.9 L1013.6,400.7 L1012.4,401.5 L1011.3,402.4Z" fill="#7f9bb5" /><polygon points="1082.0,381.0 1048.0,366.6 1059.1,382.3 1054.0,398.8" fill="#7f9bb5" />
<path d="M1127.2,390.4 L1126.2,389.0 L1125.2,387.6 L1124.1,386.3 L1123.1,384.9 L1122.1,383.6 L1121.1,382.3 L1120.0,381.0 L1119.0,379.8 L1118.0,378.6 L1116.9,377.3 L1115.9,376.1 L1114.8,375.0 L1113.8,373.8 L1112.7,372.7 L1111.7,371.6 L1110.6,370.5 L1109.5,369.4 L1108.4,368.4 L1107.4,367.4 L1106.3,366.3 L1105.2,365.4 L1104.1,364.4 L1103.0,363.5 L1101.9,362.5 L1100.8,361.6 L1099.7,360.7 L1098.5,359.9 L1097.4,359.0 L1096.3,358.2 L1095.2,357.4 L1094.0,356.7 L1092.9,355.9 L1091.7,355.2 L1090.6,354.4 L1089.4,353.8 L1088.3,353.1 L1087.1,352.4 L1085.9,351.8 L1084.8,351.2 L1083.6,350.6 L1082.4,350.1 L1081.2,349.5 L1080.0,349.0 L1078.8,348.5 L1077.6,348.0 L1076.4,347.6 L1075.2,347.1 L1074.0,346.7 L1071.2,355.3 L1072.3,355.6 L1073.3,356.0 L1074.4,356.4 L1075.4,356.8 L1076.5,357.3 L1077.6,357.7 L1078.6,358.2 L1079.7,358.7 L1080.7,359.2 L1081.8,359.8 L1082.8,360.3 L1083.8,360.9 L1084.9,361.5 L1085.9,362.1 L1086.9,362.8 L1088.0,363.4 L1089.0,364.1 L1090.0,364.8 L1091.1,365.5 L1092.1,366.3 L1093.1,367.1 L1094.1,367.8 L1095.1,368.6 L1096.2,369.5 L1097.2,370.3 L1098.2,371.2 L1099.2,372.1 L1100.2,373.0 L1101.2,373.9 L1102.2,374.9 L1103.2,375.8 L1104.2,376.8 L1105.2,377.9 L1106.2,378.9 L1107.2,379.9 L1108.2,381.0 L1109.2,382.1 L1110.1,383.2 L1111.1,384.4 L1112.1,385.5 L1113.1,386.7 L1114.0,387.9 L1115.0,389.2 L1116.0,390.4 L1117.0,391.7 L1117.9,393.0 L1118.9,394.3 L1119.8,395.6Z" fill="#f26424" /><polygon points="1060.4,346.5 1092.0,343.0 1078.5,353.2 1077.6,368.0" fill="#f26424" />
<path d="M1142.1,387.6 L1140.9,383.9 L1139.6,380.2 L1138.2,376.6 L1136.7,373.0 L1135.1,369.5 L1133.4,366.1 L1131.7,362.7 L1129.9,359.4 L1128.1,356.1 L1126.2,352.9 L1124.3,349.7 L1122.3,346.6 L1120.3,343.5 L1118.3,340.4 L1116.3,337.3 L1114.3,334.3 L1112.4,331.3 L1110.4,328.3 L1108.4,325.3 L1106.5,322.3 L1104.5,319.3 L1102.7,316.3 L1100.8,313.3 L1099.1,310.2 L1097.4,307.2 L1095.7,304.1 L1094.1,301.0 L1092.6,297.9 L1091.2,294.8 L1089.9,291.6 L1088.6,288.4 L1087.5,285.1 L1086.4,281.8 L1085.5,278.4 L1084.7,275.0 L1084.0,271.4 L1083.5,267.9 L1083.1,264.2 L1082.8,260.5 L1082.7,256.6 L1082.7,252.7 L1082.9,248.7 L1083.3,244.6 L1083.8,240.3 L1084.5,236.0 L1085.5,231.5 L1086.6,226.9 L1087.9,222.1 L1079.3,219.6 L1077.9,224.6 L1076.7,229.5 L1075.7,234.3 L1074.9,239.0 L1074.3,243.6 L1073.9,248.1 L1073.7,252.5 L1073.7,256.7 L1073.8,260.9 L1074.1,265.0 L1074.6,269.1 L1075.2,273.0 L1075.9,276.8 L1076.8,280.6 L1077.8,284.3 L1078.9,287.9 L1080.2,291.5 L1081.5,295.0 L1082.9,298.4 L1084.5,301.7 L1086.1,305.1 L1087.7,308.3 L1089.5,311.5 L1091.3,314.7 L1093.1,317.9 L1095.0,321.0 L1096.9,324.1 L1098.9,327.1 L1100.9,330.2 L1102.8,333.2 L1104.8,336.2 L1106.8,339.3 L1108.8,342.3 L1110.8,345.3 L1112.8,348.3 L1114.7,351.4 L1116.6,354.4 L1118.4,357.5 L1120.3,360.6 L1122.0,363.7 L1123.7,366.9 L1125.4,370.1 L1126.9,373.3 L1128.4,376.6 L1129.8,379.9 L1131.1,383.3 L1132.4,386.8 L1133.5,390.4Z" fill="#f39a35" /><polygon points="1087.7,213.0 1067.6,224.4 1081.6,224.6 1091.4,233.0" fill="#f39a35" />
<path d="M1116.5,320.2 L1116.6,317.8 L1116.8,315.4 L1116.9,313.0 L1117.1,310.6 L1117.3,308.3 L1117.5,306.1 L1117.7,303.8 L1118.0,301.6 L1118.2,299.5 L1118.5,297.4 L1118.8,295.3 L1119.0,293.2 L1119.4,291.2 L1119.7,289.3 L1120.0,287.3 L1120.4,285.4 L1120.7,283.6 L1121.1,281.7 L1121.5,280.0 L1121.9,278.2 L1122.3,276.5 L1122.8,274.8 L1123.2,273.2 L1123.7,271.6 L1124.2,270.0 L1124.7,268.5 L1125.2,267.0 L1125.7,265.6 L1126.2,264.2 L1126.8,262.8 L1127.3,261.5 L1127.9,260.2 L1128.5,258.9 L1129.1,257.7 L1129.7,256.5 L1130.3,255.4 L1130.9,254.3 L1131.6,253.2 L1132.2,252.2 L1132.9,251.2 L1133.6,250.2 L1134.3,249.3 L1135.0,248.4 L1135.7,247.6 L1136.4,246.7 L1137.1,246.0 L1137.8,245.2 L1138.6,244.5 L1132.5,237.9 L1131.6,238.8 L1130.6,239.7 L1129.7,240.7 L1128.8,241.7 L1128.0,242.7 L1127.1,243.8 L1126.3,244.9 L1125.5,246.1 L1124.7,247.2 L1123.9,248.5 L1123.2,249.7 L1122.4,251.0 L1121.7,252.3 L1121.0,253.7 L1120.4,255.0 L1119.7,256.5 L1119.1,257.9 L1118.4,259.4 L1117.8,260.9 L1117.2,262.5 L1116.7,264.1 L1116.1,265.7 L1115.6,267.3 L1115.1,269.0 L1114.6,270.7 L1114.1,272.5 L1113.6,274.3 L1113.2,276.1 L1112.7,278.0 L1112.3,279.8 L1111.9,281.8 L1111.5,283.7 L1111.2,285.7 L1110.8,287.8 L1110.5,289.8 L1110.1,291.9 L1109.8,294.0 L1109.5,296.2 L1109.3,298.4 L1109.0,300.6 L1108.8,302.9 L1108.5,305.2 L1108.3,307.6 L1108.1,309.9 L1108.0,312.3 L1107.8,314.8 L1107.6,317.3 L1107.5,319.8Z" fill="#a7b3c1" /><polygon points="1139.0,233.0 1120.6,244.4 1133.9,245.1 1143.6,254.4" fill="#a7b3c1" />
<path d="M1150.9,387.9 L1151.1,383.4 L1151.3,379.1 L1151.6,374.8 L1152.0,370.5 L1152.4,366.2 L1152.9,362.0 L1153.5,357.9 L1154.1,353.7 L1154.8,349.7 L1155.5,345.6 L1156.3,341.6 L1157.2,337.6 L1158.1,333.7 L1159.1,329.8 L1160.1,326.0 L1161.3,322.2 L1162.4,318.4 L1163.7,314.7 L1165.0,311.0 L1166.3,307.3 L1167.8,303.7 L1169.2,300.1 L1170.8,296.6 L1172.4,293.1 L1174.1,289.7 L1175.8,286.2 L1177.6,282.9 L1179.5,279.5 L1181.4,276.2 L1183.4,272.9 L1185.4,269.7 L1187.5,266.5 L1189.7,263.4 L1191.9,260.2 L1194.2,257.2 L1196.6,254.1 L1199.0,251.1 L1201.5,248.2 L1204.0,245.2 L1206.6,242.3 L1209.3,239.5 L1212.0,236.7 L1214.8,233.9 L1217.7,231.2 L1220.6,228.4 L1223.6,225.8 L1226.7,223.2 L1229.8,220.5 L1224.0,213.6 L1220.8,216.3 L1217.7,219.0 L1214.6,221.8 L1211.5,224.6 L1208.6,227.4 L1205.6,230.3 L1202.8,233.3 L1200.0,236.2 L1197.3,239.3 L1194.6,242.3 L1192.0,245.4 L1189.5,248.5 L1187.1,251.7 L1184.7,254.9 L1182.3,258.2 L1180.1,261.5 L1177.9,264.8 L1175.7,268.2 L1173.6,271.6 L1171.6,275.1 L1169.7,278.6 L1167.8,282.1 L1166.0,285.7 L1164.3,289.3 L1162.6,292.9 L1161.0,296.6 L1159.4,300.3 L1157.9,304.1 L1156.5,307.9 L1155.2,311.8 L1153.9,315.6 L1152.6,319.6 L1151.5,323.5 L1150.4,327.5 L1149.4,331.6 L1148.4,335.7 L1147.5,339.8 L1146.7,343.9 L1145.9,348.1 L1145.2,352.3 L1144.6,356.6 L1144.0,360.9 L1143.5,365.3 L1143.0,369.6 L1142.7,374.1 L1142.3,378.5 L1142.1,383.0 L1141.9,387.5Z" fill="#f26424" /><polygon points="1239.5,207.0 1203.7,214.3 1220.9,221.9 1225.0,240.0" fill="#f26424" />
<path d="M1156.3,387.2 L1157.1,384.5 L1157.8,381.9 L1158.6,379.3 L1159.4,376.7 L1160.2,374.2 L1161.0,371.7 L1161.9,369.3 L1162.7,366.9 L1163.6,364.6 L1164.5,362.3 L1165.4,360.1 L1166.3,357.9 L1167.2,355.7 L1168.1,353.6 L1169.1,351.5 L1170.1,349.5 L1171.0,347.5 L1172.0,345.6 L1173.0,343.7 L1174.1,341.9 L1175.1,340.1 L1176.2,338.3 L1177.2,336.6 L1178.3,334.9 L1179.4,333.3 L1180.5,331.7 L1181.6,330.2 L1182.7,328.7 L1183.9,327.3 L1185.0,325.9 L1186.2,324.5 L1187.4,323.2 L1188.6,321.9 L1189.8,320.7 L1191.0,319.5 L1192.2,318.4 L1193.5,317.3 L1194.7,316.2 L1196.0,315.2 L1197.3,314.3 L1198.6,313.3 L1199.9,312.4 L1201.2,311.6 L1202.5,310.8 L1203.9,310.0 L1205.2,309.3 L1206.6,308.6 L1208.1,308.0 L1204.3,299.8 L1202.7,300.5 L1201.1,301.3 L1199.6,302.1 L1198.0,303.0 L1196.5,304.0 L1194.9,304.9 L1193.4,305.9 L1192.0,307.0 L1190.5,308.1 L1189.0,309.3 L1187.6,310.5 L1186.2,311.7 L1184.8,313.0 L1183.4,314.3 L1182.1,315.7 L1180.8,317.1 L1179.5,318.6 L1178.2,320.1 L1176.9,321.6 L1175.6,323.2 L1174.4,324.8 L1173.2,326.5 L1172.0,328.2 L1170.8,330.0 L1169.6,331.8 L1168.5,333.6 L1167.3,335.5 L1166.2,337.4 L1165.1,339.4 L1164.1,341.4 L1163.0,343.5 L1162.0,345.6 L1161.0,347.7 L1159.9,349.9 L1159.0,352.1 L1158.0,354.4 L1157.0,356.7 L1156.1,359.0 L1155.2,361.4 L1154.3,363.8 L1153.4,366.3 L1152.5,368.8 L1151.7,371.4 L1150.8,374.0 L1150.0,376.6 L1149.2,379.3 L1148.4,382.0 L1147.7,384.8Z" fill="#f26424" /><polygon points="1216.6,296.0 1186.5,300.3 1201.2,307.7 1205.0,323.2" fill="#f26424" />
<path d="M1187.7,369.7 L1189.2,367.0 L1190.7,364.3 L1192.2,361.6 L1193.8,358.9 L1195.3,356.3 L1196.9,353.7 L1198.5,351.2 L1200.2,348.7 L1201.8,346.2 L1203.5,343.8 L1205.2,341.4 L1206.9,339.0 L1208.6,336.7 L1210.3,334.4 L1212.1,332.1 L1213.8,329.9 L1215.6,327.7 L1217.4,325.6 L1219.3,323.5 L1221.1,321.4 L1223.0,319.4 L1224.8,317.3 L1226.7,315.4 L1228.6,313.4 L1230.6,311.5 L1232.5,309.7 L1234.5,307.8 L1236.5,306.1 L1238.5,304.3 L1240.5,302.6 L1242.6,300.9 L1244.6,299.2 L1246.7,297.6 L1248.8,296.0 L1250.9,294.5 L1253.0,293.0 L1255.2,291.5 L1257.4,290.0 L1259.5,288.6 L1261.7,287.3 L1264.0,285.9 L1266.2,284.6 L1268.5,283.3 L1270.7,282.1 L1273.0,280.9 L1275.4,279.7 L1277.7,278.6 L1280.1,277.5 L1276.3,269.3 L1273.8,270.5 L1271.4,271.7 L1268.9,272.9 L1266.5,274.2 L1264.1,275.5 L1261.7,276.8 L1259.4,278.2 L1257.0,279.6 L1254.7,281.0 L1252.4,282.5 L1250.1,284.0 L1247.9,285.6 L1245.6,287.2 L1243.4,288.8 L1241.2,290.5 L1239.0,292.2 L1236.9,293.9 L1234.7,295.7 L1232.6,297.5 L1230.5,299.3 L1228.4,301.2 L1226.4,303.1 L1224.3,305.1 L1222.3,307.1 L1220.3,309.1 L1218.3,311.2 L1216.3,313.2 L1214.4,315.4 L1212.5,317.5 L1210.6,319.8 L1208.7,322.0 L1206.8,324.3 L1205.0,326.6 L1203.2,328.9 L1201.4,331.3 L1199.6,333.7 L1197.8,336.2 L1196.1,338.7 L1194.4,341.2 L1192.6,343.7 L1191.0,346.3 L1189.3,349.0 L1187.7,351.6 L1186.0,354.3 L1184.4,357.1 L1182.8,359.8 L1181.3,362.6 L1179.7,365.5Z" fill="#f39a35" /><polygon points="1291.0,264.5 1256.7,267.3 1272.0,277.7 1274.0,297.4" fill="#f39a35" />
<path d="M1169.8,392.0 L1171.6,390.0 L1173.4,388.1 L1175.3,386.2 L1177.1,384.4 L1179.0,382.6 L1180.9,380.8 L1182.9,379.1 L1184.8,377.4 L1186.8,375.7 L1188.8,374.1 L1190.9,372.6 L1193.0,371.0 L1195.1,369.5 L1197.2,368.1 L1199.3,366.7 L1201.5,365.3 L1203.7,363.9 L1206.0,362.7 L1208.3,361.4 L1210.6,360.2 L1212.9,359.0 L1215.2,357.8 L1217.6,356.7 L1220.0,355.7 L1222.5,354.6 L1224.9,353.6 L1227.4,352.7 L1230.0,351.8 L1232.5,350.9 L1235.1,350.1 L1237.7,349.3 L1240.4,348.5 L1243.0,347.8 L1245.7,347.1 L1248.5,346.5 L1251.2,345.8 L1254.0,345.3 L1256.9,344.8 L1259.7,344.3 L1262.6,343.8 L1265.5,343.4 L1268.4,343.0 L1271.4,342.7 L1274.4,342.4 L1277.4,342.2 L1280.5,341.9 L1283.6,341.8 L1286.7,341.6 L1286.3,332.6 L1283.1,332.8 L1279.9,333.0 L1276.7,333.2 L1273.6,333.4 L1270.5,333.7 L1267.4,334.1 L1264.3,334.5 L1261.3,334.9 L1258.2,335.4 L1255.3,335.9 L1252.3,336.4 L1249.4,337.0 L1246.5,337.7 L1243.6,338.4 L1240.8,339.1 L1238.0,339.8 L1235.2,340.6 L1232.4,341.5 L1229.7,342.4 L1227.0,343.3 L1224.3,344.3 L1221.7,345.3 L1219.1,346.3 L1216.5,347.4 L1213.9,348.5 L1211.4,349.7 L1208.9,350.9 L1206.4,352.2 L1204.0,353.5 L1201.5,354.8 L1199.2,356.2 L1196.8,357.6 L1194.5,359.1 L1192.2,360.6 L1189.9,362.1 L1187.7,363.7 L1185.5,365.4 L1183.3,367.0 L1181.1,368.8 L1179.0,370.5 L1176.9,372.3 L1174.9,374.1 L1172.8,376.0 L1170.8,377.9 L1168.9,379.9 L1166.9,381.9 L1165.0,383.9 L1163.2,386.0Z" fill="#8aa2b8" /><polygon points="1302.6,336.0 1266.8,323.2 1278.8,337.7 1274.0,353.3" fill="#8aa2b8" />
<path d="M1184.0,403.7 L1185.2,402.5 L1186.4,401.3 L1187.6,400.1 L1188.8,399.0 L1190.0,397.9 L1191.1,396.9 L1192.3,395.8 L1193.5,394.8 L1194.7,393.8 L1195.9,392.9 L1197.1,392.0 L1198.3,391.1 L1199.5,390.2 L1200.7,389.4 L1201.8,388.6 L1203.0,387.9 L1204.2,387.1 L1205.4,386.4 L1206.6,385.7 L1207.8,385.1 L1209.0,384.5 L1210.2,383.9 L1211.4,383.3 L1212.6,382.8 L1213.8,382.3 L1215.1,381.8 L1216.3,381.4 L1217.5,381.0 L1218.7,380.6 L1219.9,380.2 L1221.1,379.9 L1222.3,379.6 L1223.5,379.3 L1224.8,379.1 L1226.0,378.8 L1227.2,378.6 L1228.4,378.5 L1229.7,378.3 L1230.9,378.2 L1232.1,378.2 L1233.4,378.1 L1234.6,378.1 L1235.8,378.1 L1237.1,378.1 L1238.3,378.2 L1239.6,378.3 L1240.9,378.4 L1242.2,378.5 L1243.2,369.6 L1241.8,369.4 L1240.3,369.3 L1238.9,369.2 L1237.4,369.1 L1236.0,369.1 L1234.5,369.1 L1233.1,369.1 L1231.6,369.2 L1230.2,369.3 L1228.8,369.4 L1227.3,369.5 L1225.9,369.7 L1224.5,370.0 L1223.1,370.2 L1221.6,370.5 L1220.2,370.8 L1218.8,371.2 L1217.4,371.6 L1216.0,372.0 L1214.6,372.4 L1213.2,372.9 L1211.9,373.4 L1210.5,374.0 L1209.1,374.5 L1207.7,375.1 L1206.4,375.8 L1205.0,376.4 L1203.6,377.1 L1202.3,377.9 L1200.9,378.6 L1199.6,379.4 L1198.3,380.2 L1196.9,381.1 L1195.6,382.0 L1194.3,382.9 L1193.0,383.8 L1191.7,384.8 L1190.3,385.8 L1189.0,386.8 L1187.7,387.9 L1186.5,389.0 L1185.2,390.1 L1183.9,391.3 L1182.6,392.5 L1181.3,393.7 L1180.1,394.9 L1178.8,396.2 L1177.6,397.5Z" fill="#a7b3c1" /><polygon points="1258.0,369.0 1222.3,364.8 1235.3,376.5 1232.4,393.4" fill="#a7b3c1" />
<path d="M141.4,617.5 L143.3,617.9 L145.2,618.3 L147.1,618.7 L148.9,619.0 L150.7,619.3 L152.5,619.6 L154.3,619.8 L156.0,620.0 L157.7,620.2 L159.4,620.3 L161.1,620.4 L162.7,620.4 L164.3,620.5 L165.9,620.4 L167.4,620.4 L169.0,620.3 L170.5,620.1 L172.0,620.0 L173.4,619.7 L174.8,619.5 L176.2,619.2 L177.6,618.9 L179.0,618.5 L180.3,618.1 L181.6,617.7 L182.9,617.2 L184.2,616.6 L185.4,616.1 L186.6,615.5 L187.8,614.8 L188.9,614.1 L190.1,613.4 L191.2,612.6 L192.2,611.8 L193.3,610.9 L194.3,610.0 L195.3,609.0 L196.2,608.1 L197.1,607.0 L198.0,606.0 L198.9,604.8 L199.7,603.7 L200.5,602.5 L201.2,601.3 L201.9,600.0 L202.6,598.7 L203.3,597.4 L203.9,596.0 L196.5,593.1 L196.0,594.3 L195.6,595.5 L195.1,596.6 L194.6,597.7 L194.1,598.8 L193.5,599.9 L192.9,600.9 L192.3,601.8 L191.7,602.8 L191.0,603.7 L190.3,604.6 L189.6,605.4 L188.9,606.3 L188.1,607.1 L187.3,607.8 L186.4,608.6 L185.6,609.3 L184.7,610.0 L183.7,610.6 L182.8,611.2 L181.8,611.8 L180.7,612.4 L179.7,612.9 L178.6,613.4 L177.4,613.9 L176.3,614.3 L175.1,614.7 L173.8,615.1 L172.5,615.5 L171.2,615.8 L169.9,616.1 L168.5,616.3 L167.1,616.5 L165.6,616.7 L164.1,616.8 L162.6,616.9 L161.1,617.0 L159.5,617.1 L157.9,617.1 L156.2,617.0 L154.5,617.0 L152.8,616.9 L151.1,616.7 L149.3,616.6 L147.5,616.4 L145.6,616.1 L143.7,615.8 L141.8,615.5Z" fill="#97a7b8" /><polygon points="206.7,584.0 182.3,598.6 197.0,599.6 205.0,611.6" fill="#97a7b8" />
<path d="M252.7,567.7 L252.0,570.2 L251.4,572.6 L250.6,575.0 L249.8,577.2 L249.0,579.5 L248.1,581.7 L247.2,583.9 L246.2,586.0 L245.2,588.0 L244.1,590.0 L243.0,592.0 L241.8,594.0 L240.6,595.8 L239.3,597.7 L237.9,599.5 L236.5,601.2 L235.1,602.9 L233.6,604.6 L232.0,606.2 L230.4,607.8 L228.8,609.3 L227.1,610.8 L225.3,612.3 L223.5,613.7 L221.6,615.1 L219.6,616.4 L217.6,617.6 L215.6,618.9 L213.5,620.1 L211.3,621.2 L209.1,622.3 L206.8,623.3 L204.5,624.3 L202.1,625.3 L199.7,626.2 L197.2,627.0 L194.6,627.9 L192.0,628.6 L189.3,629.3 L186.6,630.0 L183.8,630.6 L181.0,631.2 L178.1,631.7 L175.1,632.2 L172.1,632.7 L169.0,633.0 L165.9,633.4 L162.8,633.7 L162.8,635.1 L166.1,635.0 L169.2,634.8 L172.3,634.6 L175.4,634.3 L178.4,634.0 L181.4,633.6 L184.3,633.2 L187.1,632.7 L190.0,632.2 L192.7,631.6 L195.4,631.0 L198.1,630.3 L200.7,629.5 L203.3,628.8 L205.9,627.9 L208.3,627.0 L210.8,626.1 L213.2,625.1 L215.5,624.0 L217.8,622.9 L220.0,621.8 L222.2,620.6 L224.4,619.3 L226.4,618.0 L228.5,616.6 L230.5,615.2 L232.4,613.7 L234.3,612.2 L236.2,610.6 L238.0,609.0 L239.7,607.3 L241.4,605.5 L243.1,603.7 L244.7,601.9 L246.2,599.9 L247.7,598.0 L249.1,596.0 L250.5,593.9 L251.8,591.7 L253.1,589.6 L254.3,587.3 L255.5,585.0 L256.6,582.7 L257.6,580.3 L258.7,577.9 L259.6,575.4 L260.5,572.8 L261.3,570.3Z" fill="#f39a35" />
<path d="M280.7,569.0 L280.7,570.2 L280.6,571.4 L280.6,572.7 L280.6,573.9 L280.5,575.1 L280.5,576.3 L280.5,577.6 L280.4,578.8 L280.4,580.0 L280.4,581.3 L280.3,582.5 L280.3,583.7 L280.3,584.9 L280.2,586.2 L280.2,587.4 L280.2,588.6 L280.1,589.8 L280.1,591.1 L280.0,592.3 L280.0,593.5 L280.0,594.7 L279.9,596.0 L279.9,597.2 L279.9,598.4 L279.8,599.6 L279.8,600.9 L279.8,602.1 L279.7,603.3 L279.7,604.5 L279.7,605.8 L279.6,607.0 L279.6,608.2 L279.6,609.5 L279.5,610.7 L279.5,611.9 L279.5,613.1 L279.4,614.4 L279.4,615.6 L279.4,616.8 L279.3,618.0 L279.3,619.3 L279.3,620.5 L279.2,621.7 L279.2,622.9 L279.2,624.2 L279.1,625.4 L279.1,626.6 L279.1,627.8 L287.0,627.9 L287.0,626.6 L287.0,625.4 L287.0,624.2 L286.9,623.0 L286.9,621.7 L286.9,620.5 L286.9,619.3 L286.8,618.1 L286.8,616.8 L286.8,615.6 L286.7,614.4 L286.7,613.1 L286.7,611.9 L286.7,610.7 L286.6,609.5 L286.6,608.2 L286.6,607.0 L286.5,605.8 L286.5,604.6 L286.5,603.3 L286.5,602.1 L286.4,600.9 L286.4,599.7 L286.4,598.4 L286.3,597.2 L286.3,596.0 L286.3,594.8 L286.3,593.5 L286.2,592.3 L286.2,591.1 L286.2,589.9 L286.1,588.6 L286.1,587.4 L286.1,586.2 L286.1,584.9 L286.0,583.7 L286.0,582.5 L286.0,581.3 L286.0,580.0 L285.9,578.8 L285.9,577.6 L285.9,576.4 L285.8,575.1 L285.8,573.9 L285.8,572.7 L285.8,571.5 L285.7,570.2 L285.7,569.0Z" fill="#a7b3c1" /><polygon points="283.2,640.9 267.0,614.8 283.0,621.6 298.8,614.8" fill="#a7b3c1" />
<path d="M306.6,572.9 L307.4,574.8 L308.2,576.6 L309.1,578.5 L310.0,580.3 L311.0,582.0 L311.9,583.8 L312.9,585.5 L313.9,587.1 L314.9,588.8 L316.0,590.4 L317.0,592.0 L318.1,593.5 L319.2,595.0 L320.4,596.5 L321.5,598.0 L322.7,599.4 L323.9,600.8 L325.2,602.2 L326.4,603.5 L327.7,604.8 L329.0,606.0 L330.3,607.3 L331.7,608.5 L333.0,609.6 L334.4,610.8 L335.9,611.9 L337.3,612.9 L338.8,614.0 L340.2,615.0 L341.7,615.9 L343.3,616.9 L344.8,617.8 L346.4,618.6 L348.0,619.5 L349.6,620.3 L351.3,621.0 L352.9,621.8 L354.6,622.4 L356.3,623.1 L358.0,623.7 L359.8,624.3 L361.5,624.9 L363.3,625.4 L365.1,625.9 L367.0,626.4 L368.8,626.8 L370.7,627.2 L372.5,627.6 L374.3,618.2 L372.5,617.9 L370.9,617.5 L369.2,617.2 L367.5,616.7 L365.9,616.3 L364.3,615.8 L362.7,615.3 L361.2,614.8 L359.7,614.2 L358.1,613.6 L356.7,613.0 L355.2,612.4 L353.7,611.7 L352.3,611.0 L350.9,610.3 L349.5,609.5 L348.1,608.7 L346.8,607.9 L345.5,607.0 L344.1,606.1 L342.9,605.2 L341.6,604.3 L340.3,603.3 L339.1,602.3 L337.9,601.3 L336.7,600.2 L335.5,599.1 L334.4,598.0 L333.2,596.9 L332.1,595.7 L331.0,594.5 L330.0,593.2 L328.9,592.0 L327.8,590.7 L326.8,589.3 L325.8,588.0 L324.8,586.6 L323.9,585.1 L322.9,583.7 L322.0,582.2 L321.1,580.7 L320.2,579.1 L319.3,577.5 L318.5,575.9 L317.6,574.3 L316.8,572.6 L316.0,570.9 L315.2,569.1Z" fill="#f39a35" /><polygon points="389.0,627.9 351.6,632.8 365.9,620.5 364.0,603.0" fill="#f39a35" />
<path d="M562.3,611.0 L564.3,611.4 L566.3,611.7 L568.2,612.0 L570.1,612.3 L571.9,612.5 L573.8,612.7 L575.6,612.8 L577.4,612.9 L579.1,613.0 L580.9,613.0 L582.6,613.0 L584.3,612.9 L585.9,612.8 L587.6,612.7 L589.2,612.5 L590.8,612.3 L592.3,612.1 L593.9,611.8 L595.4,611.4 L596.9,611.0 L598.3,610.6 L599.8,610.1 L601.2,609.6 L602.6,609.0 L604.0,608.4 L605.3,607.8 L606.6,607.1 L607.9,606.4 L609.1,605.6 L610.4,604.8 L611.6,603.9 L612.7,603.0 L613.9,602.0 L615.0,601.0 L616.1,600.0 L617.1,598.9 L618.2,597.8 L619.2,596.6 L620.1,595.4 L621.1,594.1 L622.0,592.8 L622.8,591.5 L623.7,590.1 L624.5,588.6 L625.2,587.2 L626.0,585.7 L626.7,584.1 L627.3,582.6 L619.9,579.7 L619.4,581.2 L618.8,582.6 L618.3,584.0 L617.7,585.3 L617.1,586.6 L616.5,587.9 L615.9,589.1 L615.2,590.3 L614.5,591.4 L613.8,592.5 L613.0,593.6 L612.2,594.7 L611.4,595.7 L610.6,596.6 L609.7,597.6 L608.8,598.5 L607.9,599.4 L606.9,600.2 L605.9,601.0 L604.9,601.8 L603.8,602.5 L602.7,603.2 L601.6,603.9 L600.5,604.5 L599.3,605.1 L598.1,605.7 L596.8,606.2 L595.5,606.7 L594.2,607.2 L592.8,607.6 L591.4,608.0 L590.0,608.4 L588.6,608.7 L587.1,609.0 L585.5,609.2 L584.0,609.5 L582.4,609.6 L580.8,609.8 L579.1,609.9 L577.4,609.9 L575.7,609.9 L573.9,609.9 L572.1,609.9 L570.3,609.8 L568.4,609.6 L566.5,609.5 L564.6,609.3 L562.7,609.0Z" fill="#97a7b8" /><polygon points="629.3,571.0 606.5,584.0 620.9,586.0 629.3,598.6" fill="#97a7b8" />
<path d="M668.9,568.1 L668.3,570.2 L667.7,572.2 L667.1,574.1 L666.5,576.0 L665.8,577.8 L665.1,579.7 L664.4,581.5 L663.6,583.2 L662.8,584.9 L662.0,586.6 L661.1,588.3 L660.2,589.9 L659.3,591.4 L658.4,593.0 L657.4,594.5 L656.4,596.0 L655.3,597.4 L654.3,598.8 L653.2,600.1 L652.0,601.5 L650.9,602.8 L649.7,604.0 L648.4,605.3 L647.2,606.5 L645.9,607.6 L644.6,608.7 L643.2,609.8 L641.8,610.9 L640.4,611.9 L638.9,612.9 L637.5,613.9 L635.9,614.8 L634.4,615.7 L632.8,616.6 L631.2,617.4 L629.5,618.2 L627.8,619.0 L626.1,619.8 L624.3,620.5 L622.5,621.1 L620.7,621.8 L618.8,622.4 L616.9,623.0 L615.0,623.5 L613.0,624.0 L611.0,624.5 L609.0,624.9 L606.9,625.3 L608.6,634.2 L610.8,633.7 L613.0,633.3 L615.2,632.7 L617.3,632.2 L619.4,631.6 L621.5,631.0 L623.6,630.3 L625.6,629.6 L627.6,628.8 L629.5,628.1 L631.5,627.2 L633.3,626.4 L635.2,625.5 L637.0,624.6 L638.8,623.6 L640.5,622.6 L642.3,621.5 L643.9,620.4 L645.6,619.3 L647.2,618.1 L648.8,616.9 L650.3,615.7 L651.8,614.4 L653.3,613.1 L654.7,611.7 L656.1,610.3 L657.5,608.9 L658.8,607.4 L660.1,605.9 L661.3,604.4 L662.6,602.8 L663.7,601.1 L664.9,599.5 L666.0,597.8 L667.0,596.1 L668.1,594.3 L669.1,592.5 L670.0,590.7 L670.9,588.8 L671.8,586.9 L672.7,585.0 L673.5,583.0 L674.2,581.0 L675.0,578.9 L675.7,576.9 L676.3,574.8 L677.0,572.6 L677.5,570.5Z" fill="#f39a35" /><polygon points="590.2,636.0 631.0,637.0 616.1,626.8 619.5,610.0" fill="#f39a35" />
<path d="M692.5,569.3 L692.5,570.5 L692.5,571.8 L692.4,573.0 L692.4,574.2 L692.4,575.4 L692.4,576.6 L692.3,577.9 L692.3,579.1 L692.3,580.3 L692.3,581.5 L692.2,582.7 L692.2,584.0 L692.2,585.2 L692.2,586.4 L692.1,587.6 L692.1,588.9 L692.1,590.1 L692.1,591.3 L692.1,592.5 L692.0,593.7 L692.0,595.0 L692.0,596.2 L692.0,597.4 L691.9,598.6 L691.9,599.8 L691.9,601.1 L691.9,602.3 L691.8,603.5 L691.8,604.7 L691.8,605.9 L691.8,607.2 L691.8,608.4 L691.7,609.6 L691.7,610.8 L691.7,612.1 L691.7,613.3 L691.6,614.5 L691.6,615.7 L691.6,616.9 L691.6,618.2 L691.5,619.4 L691.5,620.6 L691.5,621.8 L691.5,623.0 L691.4,624.3 L691.4,625.5 L691.4,626.7 L691.4,627.9 L699.4,627.9 L699.3,626.7 L699.3,625.4 L699.3,624.2 L699.2,623.0 L699.2,621.8 L699.1,620.6 L699.1,619.3 L699.1,618.1 L699.0,616.9 L699.0,615.7 L698.9,614.4 L698.9,613.2 L698.9,612.0 L698.8,610.8 L698.8,609.6 L698.7,608.3 L698.7,607.1 L698.7,605.9 L698.6,604.7 L698.6,603.5 L698.6,602.2 L698.5,601.0 L698.5,599.8 L698.4,598.6 L698.4,597.4 L698.4,596.1 L698.3,594.9 L698.3,593.7 L698.2,592.5 L698.2,591.3 L698.2,590.0 L698.1,588.8 L698.1,587.6 L698.0,586.4 L698.0,585.2 L698.0,583.9 L697.9,582.7 L697.9,581.5 L697.9,580.3 L697.8,579.0 L697.8,577.8 L697.7,576.6 L697.7,575.4 L697.7,574.2 L697.6,572.9 L697.6,571.7 L697.5,570.5 L697.5,569.3Z" fill="#a7b3c1" /><polygon points="696.0,639.3 678.8,616.5 695.1,622.4 710.7,616.5" fill="#a7b3c1" />
<path d="M716.3,572.9 L717.1,574.7 L718.0,576.6 L718.9,578.4 L719.8,580.2 L720.8,581.9 L721.8,583.7 L722.7,585.4 L723.8,587.1 L724.8,588.7 L725.8,590.3 L726.9,591.9 L728.0,593.5 L729.1,595.0 L730.3,596.5 L731.4,597.9 L732.6,599.4 L733.8,600.8 L735.1,602.2 L736.3,603.5 L737.6,604.8 L738.9,606.1 L740.2,607.3 L741.6,608.5 L742.9,609.7 L744.3,610.9 L745.7,612.0 L747.2,613.1 L748.6,614.2 L750.1,615.2 L751.6,616.2 L753.1,617.2 L754.7,618.1 L756.2,619.0 L757.8,619.9 L759.4,620.7 L761.0,621.5 L762.7,622.3 L764.3,623.0 L766.0,623.7 L767.7,624.4 L769.5,625.0 L771.2,625.6 L773.0,626.2 L774.8,626.8 L776.6,627.3 L778.4,627.8 L780.2,628.2 L782.1,628.6 L784.0,619.8 L782.3,619.4 L780.6,619.0 L778.9,618.6 L777.3,618.1 L775.7,617.6 L774.1,617.1 L772.5,616.6 L771.0,616.0 L769.4,615.4 L767.9,614.7 L766.4,614.1 L764.9,613.4 L763.5,612.7 L762.1,611.9 L760.6,611.1 L759.2,610.3 L757.9,609.5 L756.5,608.6 L755.2,607.8 L753.9,606.8 L752.6,605.9 L751.3,604.9 L750.0,603.9 L748.8,602.9 L747.6,601.8 L746.3,600.7 L745.2,599.6 L744.0,598.5 L742.8,597.3 L741.7,596.1 L740.6,594.8 L739.5,593.6 L738.4,592.3 L737.4,590.9 L736.3,589.6 L735.3,588.2 L734.3,586.8 L733.3,585.3 L732.4,583.9 L731.4,582.3 L730.5,580.8 L729.6,579.2 L728.7,577.6 L727.8,576.0 L727.0,574.3 L726.1,572.6 L725.3,570.9 L724.5,569.1Z" fill="#f26424" /><polygon points="798.5,627.9 762.7,634.4 775.6,622.5 772.5,606.7" fill="#f26424" />
<path d="M1002.1,602.8 L1004.1,603.2 L1006.0,603.7 L1007.9,604.1 L1009.8,604.4 L1011.7,604.8 L1013.5,605.0 L1015.3,605.3 L1017.1,605.5 L1018.8,605.7 L1020.5,605.8 L1022.2,605.9 L1023.9,606.0 L1025.5,606.0 L1027.1,606.0 L1028.7,605.9 L1030.3,605.8 L1031.8,605.7 L1033.3,605.5 L1034.8,605.3 L1036.2,605.1 L1037.7,604.8 L1039.1,604.4 L1040.4,604.1 L1041.8,603.7 L1043.1,603.2 L1044.4,602.7 L1045.7,602.2 L1046.9,601.6 L1048.1,600.9 L1049.3,600.3 L1050.4,599.5 L1051.6,598.8 L1052.7,598.0 L1053.7,597.1 L1054.8,596.2 L1055.8,595.3 L1056.7,594.3 L1057.6,593.3 L1058.5,592.2 L1059.4,591.1 L1060.2,590.0 L1061.0,588.8 L1061.8,587.5 L1062.5,586.3 L1063.2,585.0 L1063.9,583.6 L1064.5,582.2 L1065.1,580.8 L1057.5,578.1 L1057.1,579.4 L1056.7,580.6 L1056.3,581.8 L1055.8,582.9 L1055.3,584.0 L1054.8,585.1 L1054.2,586.2 L1053.6,587.2 L1053.0,588.1 L1052.4,589.1 L1051.7,590.0 L1051.0,590.8 L1050.3,591.7 L1049.5,592.5 L1048.7,593.3 L1047.9,594.0 L1047.0,594.8 L1046.1,595.5 L1045.2,596.1 L1044.2,596.8 L1043.2,597.4 L1042.2,597.9 L1041.1,598.5 L1040.0,599.0 L1038.9,599.5 L1037.7,599.9 L1036.5,600.3 L1035.2,600.7 L1033.9,601.0 L1032.6,601.3 L1031.2,601.6 L1029.8,601.9 L1028.4,602.1 L1026.9,602.2 L1025.4,602.4 L1023.9,602.5 L1022.3,602.5 L1020.6,602.6 L1019.0,602.6 L1017.3,602.5 L1015.6,602.4 L1013.8,602.3 L1012.0,602.2 L1010.2,602.0 L1008.3,601.7 L1006.4,601.5 L1004.5,601.2 L1002.5,600.8Z" fill="#7f97ad" /><polygon points="1067.4,569.3 1043.0,582.3 1058.4,584.4 1067.4,597.0" fill="#7f97ad" />
<path d="M1108.9,567.6 L1107.9,569.8 L1106.9,572.0 L1106.0,574.2 L1105.0,576.3 L1103.9,578.3 L1102.9,580.3 L1101.9,582.3 L1100.8,584.2 L1099.7,586.0 L1098.6,587.8 L1097.5,589.6 L1096.4,591.3 L1095.2,593.0 L1094.1,594.6 L1092.9,596.2 L1091.7,597.7 L1090.5,599.2 L1089.2,600.7 L1088.0,602.1 L1086.7,603.4 L1085.4,604.7 L1084.1,606.0 L1082.8,607.2 L1081.5,608.4 L1080.1,609.5 L1078.8,610.6 L1077.4,611.6 L1076.0,612.6 L1074.6,613.5 L1073.2,614.4 L1071.7,615.3 L1070.3,616.1 L1068.8,616.9 L1067.3,617.6 L1065.8,618.3 L1064.2,618.9 L1062.7,619.5 L1061.1,620.1 L1059.5,620.6 L1057.9,621.1 L1056.3,621.5 L1054.7,621.9 L1053.0,622.2 L1051.3,622.5 L1049.6,622.8 L1047.9,623.0 L1046.1,623.2 L1044.3,623.3 L1045.0,632.3 L1046.9,632.2 L1048.9,632.0 L1050.9,631.7 L1052.8,631.4 L1054.7,631.1 L1056.6,630.7 L1058.5,630.2 L1060.4,629.7 L1062.2,629.2 L1064.0,628.6 L1065.8,628.0 L1067.6,627.3 L1069.4,626.5 L1071.1,625.8 L1072.8,624.9 L1074.5,624.0 L1076.2,623.1 L1077.9,622.1 L1079.5,621.1 L1081.1,620.0 L1082.7,618.9 L1084.3,617.7 L1085.8,616.5 L1087.3,615.2 L1088.8,613.9 L1090.3,612.5 L1091.8,611.1 L1093.2,609.7 L1094.6,608.2 L1096.0,606.6 L1097.4,605.0 L1098.7,603.4 L1100.0,601.7 L1101.3,600.0 L1102.6,598.2 L1103.8,596.4 L1105.1,594.5 L1106.3,592.6 L1107.5,590.6 L1108.6,588.6 L1109.8,586.6 L1110.9,584.5 L1112.0,582.4 L1113.1,580.2 L1114.1,578.0 L1115.2,575.7 L1116.2,573.4 L1117.1,571.0Z" fill="#f39a35" /><polygon points="1025.1,636.0 1070.7,631.0 1054.0,623.9 1057.7,608.3" fill="#f39a35" />
<path d="M1134.9,569.3 L1134.9,570.5 L1134.8,571.7 L1134.8,572.9 L1134.7,574.1 L1134.7,575.3 L1134.7,576.5 L1134.6,577.7 L1134.6,578.9 L1134.5,580.1 L1134.5,581.3 L1134.5,582.5 L1134.4,583.7 L1134.4,584.9 L1134.3,586.1 L1134.3,587.3 L1134.3,588.5 L1134.2,589.7 L1134.2,590.9 L1134.1,592.1 L1134.1,593.3 L1134.1,594.5 L1134.0,595.7 L1134.0,596.9 L1133.9,598.2 L1133.9,599.4 L1133.9,600.6 L1133.8,601.8 L1133.8,603.0 L1133.7,604.2 L1133.7,605.4 L1133.7,606.6 L1133.6,607.8 L1133.6,609.0 L1133.5,610.2 L1133.5,611.4 L1133.5,612.6 L1133.4,613.8 L1133.4,615.0 L1133.3,616.2 L1133.3,617.4 L1133.3,618.6 L1133.2,619.8 L1133.2,621.0 L1133.1,622.2 L1133.1,623.4 L1133.1,624.6 L1133.0,625.8 L1133.0,627.0 L1141.0,627.1 L1141.0,625.9 L1140.9,624.7 L1140.9,623.5 L1140.9,622.3 L1140.9,621.1 L1140.8,619.9 L1140.8,618.7 L1140.8,617.5 L1140.8,616.2 L1140.8,615.0 L1140.7,613.8 L1140.7,612.6 L1140.7,611.4 L1140.7,610.2 L1140.6,609.0 L1140.6,607.8 L1140.6,606.6 L1140.6,605.4 L1140.5,604.2 L1140.5,603.0 L1140.5,601.8 L1140.5,600.6 L1140.5,599.4 L1140.4,598.2 L1140.4,597.0 L1140.4,595.8 L1140.4,594.6 L1140.3,593.4 L1140.3,592.2 L1140.3,591.0 L1140.3,589.8 L1140.3,588.6 L1140.2,587.4 L1140.2,586.2 L1140.2,585.0 L1140.2,583.8 L1140.1,582.6 L1140.1,581.4 L1140.1,580.1 L1140.1,578.9 L1140.1,577.7 L1140.0,576.5 L1140.0,575.3 L1140.0,574.1 L1140.0,572.9 L1139.9,571.7 L1139.9,570.5 L1139.9,569.3Z" fill="#a7b3c1" /><polygon points="1137.4,639.3 1121.1,614.8 1136.8,621.2 1152.0,614.8" fill="#a7b3c1" />
<path d="M1158.9,573.2 L1159.8,575.1 L1160.8,576.9 L1161.8,578.7 L1162.8,580.5 L1163.8,582.3 L1164.8,584.0 L1165.8,585.7 L1166.9,587.4 L1167.9,589.1 L1169.0,590.7 L1170.1,592.3 L1171.2,593.8 L1172.4,595.4 L1173.5,596.9 L1174.7,598.3 L1175.9,599.8 L1177.1,601.2 L1178.3,602.6 L1179.5,603.9 L1180.8,605.3 L1182.1,606.6 L1183.4,607.8 L1184.7,609.1 L1186.0,610.3 L1187.3,611.5 L1188.7,612.6 L1190.0,613.7 L1191.4,614.8 L1192.8,615.9 L1194.3,616.9 L1195.7,617.9 L1197.2,618.9 L1198.6,619.8 L1200.1,620.7 L1201.6,621.6 L1203.1,622.4 L1204.7,623.2 L1206.2,624.0 L1207.8,624.8 L1209.4,625.5 L1211.0,626.2 L1212.6,626.8 L1214.2,627.4 L1215.9,628.0 L1217.5,628.6 L1219.2,629.1 L1220.9,629.6 L1222.6,630.1 L1225.2,620.4 L1223.6,620.0 L1222.1,619.6 L1220.6,619.1 L1219.2,618.6 L1217.7,618.1 L1216.3,617.5 L1214.8,616.9 L1213.4,616.3 L1212.0,615.7 L1210.6,615.0 L1209.3,614.3 L1207.9,613.6 L1206.6,612.9 L1205.2,612.1 L1203.9,611.3 L1202.6,610.5 L1201.3,609.6 L1200.0,608.7 L1198.8,607.8 L1197.5,606.9 L1196.3,605.9 L1195.1,604.9 L1193.9,603.9 L1192.7,602.8 L1191.5,601.8 L1190.3,600.6 L1189.1,599.5 L1188.0,598.3 L1186.9,597.1 L1185.8,595.9 L1184.6,594.7 L1183.6,593.4 L1182.5,592.1 L1181.4,590.7 L1180.4,589.3 L1179.3,587.9 L1178.3,586.5 L1177.3,585.1 L1176.3,583.6 L1175.3,582.0 L1174.3,580.5 L1173.4,578.9 L1172.4,577.3 L1171.5,575.7 L1170.6,574.0 L1169.7,572.3 L1168.8,570.6 L1167.9,568.8Z" fill="#f39a35" /><polygon points="1240.0,629.5 1203.5,636.0 1216.1,623.2 1212.0,606.0" fill="#f39a35" />
<path d="M1210.3,583.6 L1211.1,584.7 L1211.9,585.8 L1212.7,586.9 L1213.5,588.0 L1214.4,589.0 L1215.2,590.1 L1216.1,591.1 L1216.9,592.1 L1217.8,593.1 L1218.7,594.1 L1219.6,595.0 L1220.5,596.0 L1221.5,596.9 L1222.4,597.8 L1223.4,598.7 L1224.3,599.6 L1225.3,600.4 L1226.3,601.3 L1227.3,602.1 L1228.3,602.9 L1229.3,603.7 L1230.4,604.5 L1231.4,605.2 L1232.5,606.0 L1233.5,606.7 L1234.6,607.4 L1235.7,608.1 L1236.8,608.7 L1237.9,609.4 L1239.0,610.0 L1240.1,610.6 L1241.3,611.2 L1242.4,611.8 L1243.6,612.4 L1244.8,612.9 L1246.0,613.4 L1247.1,613.9 L1248.4,614.4 L1249.6,614.9 L1250.8,615.4 L1252.0,615.8 L1253.3,616.2 L1254.5,616.6 L1255.8,617.0 L1257.1,617.4 L1258.4,617.7 L1259.7,618.1 L1260.9,618.4 L1263.1,609.6 L1261.8,609.3 L1260.7,609.0 L1259.5,608.7 L1258.4,608.4 L1257.2,608.0 L1256.1,607.7 L1255.0,607.3 L1253.9,606.9 L1252.8,606.5 L1251.7,606.1 L1250.6,605.6 L1249.5,605.2 L1248.5,604.7 L1247.4,604.2 L1246.4,603.7 L1245.4,603.2 L1244.4,602.7 L1243.4,602.1 L1242.4,601.6 L1241.4,601.0 L1240.4,600.4 L1239.4,599.8 L1238.5,599.2 L1237.5,598.5 L1236.6,597.9 L1235.7,597.2 L1234.8,596.5 L1233.9,595.8 L1233.0,595.1 L1232.1,594.4 L1231.2,593.6 L1230.3,592.9 L1229.5,592.1 L1228.6,591.3 L1227.8,590.5 L1227.0,589.6 L1226.1,588.8 L1225.3,587.9 L1224.5,587.1 L1223.7,586.2 L1222.9,585.3 L1222.2,584.3 L1221.4,583.4 L1220.6,582.4 L1219.9,581.5 L1219.1,580.5 L1218.4,579.5 L1217.7,578.4Z" fill="#8199af" />
<polygon points="1205.8,572.5 1231.8,584 1220,588 1210.6,598.6" fill="#8199af"/>
<polygon points="1279,618 1246.5,624.6 1256,613 1254.6,600" fill="#7b93aa"/>
<ellipse cx="233.0" cy="439.0" rx="20" ry="3.5" fill="#8fb5dd" opacity="0.6"/><ellipse cx="339.0" cy="433.0" rx="18" ry="3.5" fill="#7faedb" opacity="0.6"/><path d="M243.0,428.0 C234.3,430.8 231.7,432.0 233.0,435.0 C234.3,438.0 242.3,443.0 251.0,446.0 C259.7,449.0 274.3,452.5 285.0,453.0 C295.7,453.5 307.5,451.3 315.0,449.0 C322.5,446.7 325.0,442.5 330.0,439.0 C335.0,435.5 345.2,430.7 345.0,428.0 C344.8,425.3 339.0,424.7 329.0,423.0 C319.0,421.3 299.3,417.2 285.0,418.0 C270.7,418.8 251.7,425.2 243.0,428.0Z" fill="#3088d2"/><path d="M239.0,426.0 A46,33 0 0 1 331.0,426.0 Z" fill="#ffffff" opacity="0.95" filter="url(#blur2)"/><ellipse cx="285.0" cy="422.0" rx="43" ry="29.5" fill="#de4018"/><ellipse cx="277.0" cy="416.0" rx="28" ry="19" fill="#f0642c" transform="rotate(-12 277.0 416.0)"/><ellipse cx="272.0" cy="409.0" rx="13.5" ry="7.5" fill="#f6a585" transform="rotate(-15 272.0 409.0)"/>
<ellipse cx="657.0" cy="439.0" rx="20" ry="3.5" fill="#8fb5dd" opacity="0.6"/><ellipse cx="763.0" cy="433.0" rx="18" ry="3.5" fill="#7faedb" opacity="0.6"/><path d="M667.0,428.0 C658.3,430.8 655.7,432.0 657.0,435.0 C658.3,438.0 666.3,443.0 675.0,446.0 C683.7,449.0 698.3,452.5 709.0,453.0 C719.7,453.5 731.5,451.3 739.0,449.0 C746.5,446.7 749.0,442.5 754.0,439.0 C759.0,435.5 769.2,430.7 769.0,428.0 C768.8,425.3 763.0,424.7 753.0,423.0 C743.0,421.3 723.3,417.2 709.0,418.0 C694.7,418.8 675.7,425.2 667.0,428.0Z" fill="#3088d2"/><path d="M663.0,426.0 A46,33 0 0 1 755.0,426.0 Z" fill="#ffffff" opacity="0.95" filter="url(#blur2)"/><ellipse cx="709.0" cy="422.0" rx="43" ry="29.5" fill="#de4018"/><ellipse cx="701.0" cy="416.0" rx="28" ry="19" fill="#f0642c" transform="rotate(-12 701.0 416.0)"/><ellipse cx="696.0" cy="409.0" rx="13.5" ry="7.5" fill="#f6a585" transform="rotate(-15 696.0 409.0)"/>
<ellipse cx="1094.0" cy="438.0" rx="20" ry="3.5" fill="#8fb5dd" opacity="0.6"/><ellipse cx="1200.0" cy="432.0" rx="18" ry="3.5" fill="#7faedb" opacity="0.6"/><path d="M1104.0,427.0 C1095.3,429.8 1092.7,431.0 1094.0,434.0 C1095.3,437.0 1103.3,442.0 1112.0,445.0 C1120.7,448.0 1135.3,451.5 1146.0,452.0 C1156.7,452.5 1168.5,450.3 1176.0,448.0 C1183.5,445.7 1186.0,441.5 1191.0,438.0 C1196.0,434.5 1206.2,429.7 1206.0,427.0 C1205.8,424.3 1200.0,423.7 1190.0,422.0 C1180.0,420.3 1160.3,416.2 1146.0,417.0 C1131.7,417.8 1112.7,424.2 1104.0,427.0Z" fill="#3088d2"/><path d="M1100.0,425.0 A46,33 0 0 1 1192.0,425.0 Z" fill="#ffffff" opacity="0.95" filter="url(#blur2)"/><ellipse cx="1146.0" cy="421.0" rx="43" ry="29.5" fill="#de4018"/><ellipse cx="1138.0" cy="415.0" rx="28" ry="19" fill="#f0642c" transform="rotate(-12 1138.0 415.0)"/><ellipse cx="1133.0" cy="408.0" rx="13.5" ry="7.5" fill="#f6a585" transform="rotate(-15 1133.0 408.0)"/>
<g font-family="Liberation Sans, sans-serif"><text transform="translate(315.0,118.0) scale(0.740,1)" font-size="33.0" font-weight="normal" fill="#246aa8" stroke="#246aa8" stroke-width="0.70" vector-effect="non-scaling-stroke" textLength="1001.4" lengthAdjust="spacing" >Накопичення досвіду, традицій, інфраструктури, інституцій</text><text transform="translate(145.0,260.4) scale(0.780,1)" font-size="31.0" font-weight="normal" fill="#185a9e" stroke="#185a9e" stroke-width="1.00" vector-effect="non-scaling-stroke" textLength="166.7" lengthAdjust="spacing" >Різка зміна</text><text transform="translate(537.0,274.0) scale(0.780,1)" font-size="30.0" font-weight="normal" fill="#185a9e" stroke="#185a9e" stroke-width="1.00" vector-effect="non-scaling-stroke" textLength="65.4" lengthAdjust="spacing" >Нові</text><text transform="translate(484.0,306.0) scale(0.780,1)" font-size="30.0" font-weight="normal" fill="#185a9e" stroke="#185a9e" stroke-width="1.00" vector-effect="non-scaling-stroke" textLength="169.2" lengthAdjust="spacing" >можливості</text><text transform="translate(941.0,284.5) scale(0.780,1)" font-size="30.5" font-weight="normal" fill="#185a9e" stroke="#185a9e" stroke-width="1.00" vector-effect="non-scaling-stroke" textLength="94.9" lengthAdjust="spacing" >Ефект</text><text transform="translate(891.0,319.0) scale(0.780,1)" font-size="30.0" font-weight="normal" fill="#185a9e" stroke="#185a9e" stroke-width="1.00" vector-effect="non-scaling-stroke" textLength="221.8" lengthAdjust="spacing" >мультиплікації</text><text transform="translate(215.0,488.5) scale(0.780,1)" font-size="34.0" font-weight="normal" fill="#cf3322" stroke="#cf3322" stroke-width="1.30" vector-effect="non-scaling-stroke" textLength="124.2" lengthAdjust="spacing" >Кайрос</text><text transform="translate(322.9,488.5) scale(0.640,1)" font-size="34.0" font-weight="normal" fill="#cf3322" stroke="#cf3322" stroke-width="0.60" vector-effect="non-scaling-stroke" textLength="34.5" lengthAdjust="spacing" >—</text><text transform="translate(171.0,524.2) scale(0.840,1)" font-size="29.0" font-weight="normal" fill="#11427e" stroke="#11427e" stroke-width="0.75" vector-effect="non-scaling-stroke" textLength="259.5" lengthAdjust="spacing" >критичний момент</text><text transform="translate(221.0,556.5) scale(0.780,1)" font-size="29.0" font-weight="normal" fill="#11427e" stroke="#11427e" stroke-width="0.75" vector-effect="non-scaling-stroke" textLength="156.4" lengthAdjust="spacing" >рішення/дії</text><text transform="translate(183.7,672.5) scale(0.870,1)" font-size="27.0" font-weight="normal" fill="#11427e" stroke="#11427e" stroke-width="0.75" vector-effect="non-scaling-stroke" textLength="213.9" lengthAdjust="spacing" >Миттева дія, яка</text><text transform="translate(148.0,707.5) scale(0.830,1)" font-size="27.0" font-weight="normal" fill="#11427e" stroke="#11427e" stroke-width="0.75" vector-effect="non-scaling-stroke" textLength="313.6" lengthAdjust="spacing" >формує нову траєкторію</text><text transform="translate(631.0,488.5) scale(0.780,1)" font-size="34.0" font-weight="normal" fill="#cf3322" stroke="#cf3322" stroke-width="1.30" vector-effect="non-scaling-stroke" textLength="124.2" lengthAdjust="spacing" >Кайрос</text><text transform="translate(738.9,488.5) scale(0.640,1)" font-size="34.0" font-weight="normal" fill="#cf3322" stroke="#cf3322" stroke-width="0.60" vector-effect="non-scaling-stroke" textLength="34.5" lengthAdjust="spacing" >—</text><text transform="translate(584.0,524.2) scale(0.840,1)" font-size="29.0" font-weight="normal" fill="#11427e" stroke="#11427e" stroke-width="0.75" vector-effect="non-scaling-stroke" textLength="256.0" lengthAdjust="spacing" >критичний момент</text><text transform="translate(633.0,556.5) scale(0.780,1)" font-size="29.0" font-weight="normal" fill="#11427e" stroke="#11427e" stroke-width="0.75" vector-effect="non-scaling-stroke" textLength="152.6" lengthAdjust="spacing" >рішення/дії</text><text transform="translate(594.7,672.5) scale(0.870,1)" font-size="27.0" font-weight="normal" fill="#11427e" stroke="#11427e" stroke-width="0.75" vector-effect="non-scaling-stroke" textLength="216.7" lengthAdjust="spacing" >Миттева дія, яка</text><text transform="translate(561.0,707.5) scale(0.830,1)" font-size="27.0" font-weight="normal" fill="#11427e" stroke="#11427e" stroke-width="0.75" vector-effect="non-scaling-stroke" textLength="320.5" lengthAdjust="spacing" >формує нову траєкторію</text><text transform="translate(1074.0,488.5) scale(0.780,1)" font-size="34.0" font-weight="normal" fill="#cf3322" stroke="#cf3322" stroke-width="1.30" vector-effect="non-scaling-stroke" textLength="123.2" lengthAdjust="spacing" >Кайрос</text><text transform="translate(1181.1,488.5) scale(0.640,1)" font-size="34.0" font-weight="normal" fill="#cf3322" stroke="#cf3322" stroke-width="0.60" vector-effect="non-scaling-stroke" textLength="34.3" lengthAdjust="spacing" >—</text><text transform="translate(1026.0,524.2) scale(0.840,1)" font-size="29.0" font-weight="normal" fill="#11427e" stroke="#11427e" stroke-width="0.75" vector-effect="non-scaling-stroke" textLength="257.1" lengthAdjust="spacing" >критичний момент</text><text transform="translate(1074.0,556.5) scale(0.780,1)" font-size="29.0" font-weight="normal" fill="#11427e" stroke="#11427e" stroke-width="0.75" vector-effect="non-scaling-stroke" textLength="153.8" lengthAdjust="spacing" >рішення/дії</text><text transform="translate(1042.7,672.5) scale(0.870,1)" font-size="27.0" font-weight="normal" fill="#11427e" stroke="#11427e" stroke-width="0.75" vector-effect="non-scaling-stroke" textLength="208.9" lengthAdjust="spacing" >Миттева дія, яка</text><text transform="translate(1008.0,707.5) scale(0.830,1)" font-size="27.0" font-weight="normal" fill="#11427e" stroke="#11427e" stroke-width="0.75" vector-effect="non-scaling-stroke" textLength="308.9" lengthAdjust="spacing" >формує нову траєкторію</text><text transform="translate(513.0,807.8) scale(0.920,1)" font-size="35.0" font-weight="normal" fill="#0f4c8c" stroke="#0f4c8c" stroke-width="1.40" vector-effect="non-scaling-stroke" textLength="118.9" lengthAdjust="spacing" >Хронос</text><text transform="translate(634.0,807.8) scale(0.640,1)" font-size="34.0" font-weight="normal" fill="#0f4c8c" stroke="#0f4c8c" stroke-width="0.60" vector-effect="non-scaling-stroke" textLength="34.4" lengthAdjust="spacing" >—</text><text transform="translate(669.0,807.8) scale(0.860,1)" font-size="29.0" font-weight="normal" fill="#0f4c8c" stroke="#0f4c8c" stroke-width="0.80" vector-effect="non-scaling-stroke" textLength="236.0" lengthAdjust="spacing" >неперервний час</text></g>
</svg></body></html>
